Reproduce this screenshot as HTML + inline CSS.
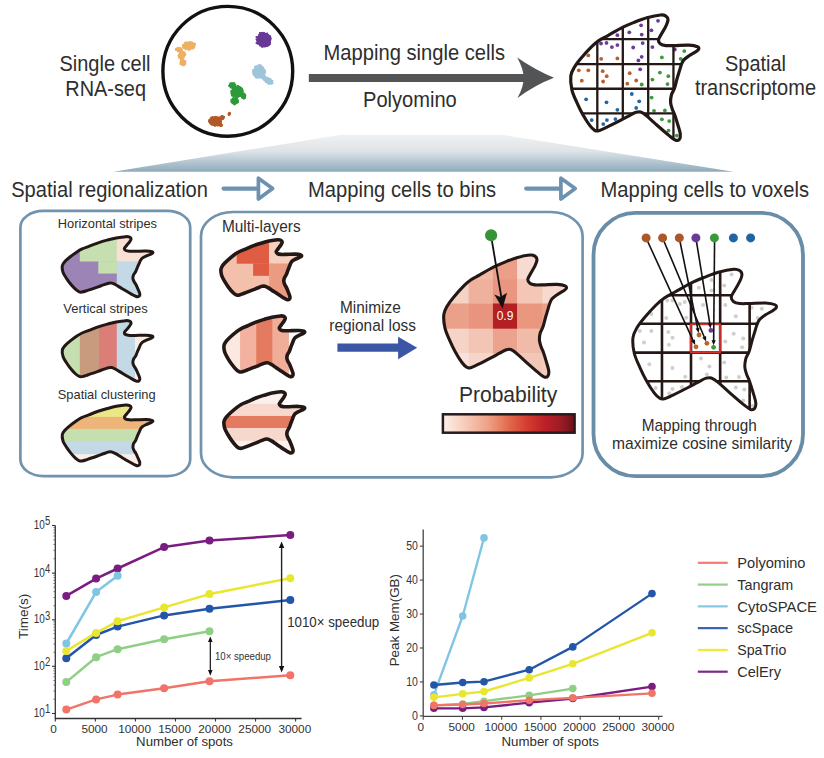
<!DOCTYPE html>
<html><head><meta charset="utf-8"><style>
html,body{margin:0;padding:0;background:#fff;}
body{width:824px;height:758px;overflow:hidden;}
svg{display:block;font-family:"Liberation Sans", sans-serif;}
</style></head><body>
<svg width="824" height="758" viewBox="0 0 824 758">
<defs><clipPath id="c1"><path d="M570.8,76C571.23,72.2 572.83,69.92 574.5,67C576.17,64.08 577.98,61.85 580.8,58.5C583.62,55.15 588.4,49.88 591.4,46.9C594.4,43.92 595.98,42.53 598.8,40.6C601.62,38.67 604.35,37.5 608.3,35.3C612.25,33.1 618.13,29.58 622.5,27.4C626.87,25.22 630.43,23.82 634.5,22.2C638.57,20.58 642.55,18.9 646.9,17.7C651.25,16.5 657.43,15.27 660.6,15C663.77,14.73 664.67,15.3 665.9,16.1C667.13,16.9 668,18.13 668,19.8C668,21.47 666.95,23.82 665.9,26.1C664.85,28.38 662.93,31.22 661.7,33.5C660.47,35.78 658.68,38.05 658.5,39.8C658.32,41.55 659.37,43.03 660.6,44C661.83,44.97 663.62,45.33 665.9,45.6C668.18,45.87 670.43,45.68 674.3,45.6C678.17,45.52 685.23,44.92 689.1,45.1C692.97,45.28 695.92,46 697.5,46.7C699.08,47.4 698.95,48.42 698.6,49.3C698.25,50.18 696.98,50.93 695.4,52C693.82,53.07 691.03,54.38 689.1,55.7C687.17,57.02 685.08,58.43 683.8,59.9C682.52,61.37 682.1,62.75 681.4,64.5C680.7,66.25 680.33,68 679.6,70.4C678.87,72.8 677.87,75.9 677,78.9C676.13,81.9 675.33,85.72 674.4,88.4C673.47,91.08 672.03,92.62 671.4,95C670.77,97.38 670.45,100.33 670.6,102.7C670.75,105.07 671.63,107.23 672.3,109.2C672.97,111.17 673.72,112.03 674.6,114.5C675.48,116.97 676.65,120.73 677.6,124C678.55,127.27 680.02,131.53 680.3,134.1C680.58,136.67 680.13,138.4 679.3,139.4C678.47,140.4 677.12,140.83 675.3,140.1C673.48,139.37 671.7,137.7 668.4,135C665.1,132.3 659.2,127.13 655.5,123.9C651.8,120.67 648.67,117.57 646.2,115.6C643.73,113.63 642.38,112.65 640.7,112.1C639.02,111.55 638.05,111.68 636.1,112.3C634.15,112.92 631.62,114.45 629,115.8C626.38,117.15 624.15,118.47 620.4,120.4C616.65,122.33 610.13,125.67 606.5,127.4C602.87,129.13 600.57,130.32 598.6,130.8C596.63,131.28 596.18,131.2 594.7,130.3C593.22,129.4 591.68,128.03 589.7,125.4C587.72,122.77 584.93,118.3 582.8,114.5C580.67,110.7 578.72,106.72 576.9,102.6C575.08,98.48 572.92,94.23 571.9,89.8C570.88,85.37 570.37,79.8 570.8,76Z"/></clipPath><linearGradient id="wg" x1="0" y1="0" x2="0" y2="1"><stop offset="0" stop-color="#f1f1f1"/><stop offset="0.45" stop-color="#dde3e8"/><stop offset="1" stop-color="#8eaabb"/></linearGradient><clipPath id="c2"><path d="M62.31,265.84C62.62,264.02 63.75,262.92 64.93,261.53C66.11,260.13 67.39,259.06 69.39,257.46C71.38,255.85 74.76,253.33 76.89,251.9C79.01,250.48 80.13,249.81 82.12,248.89C84.12,247.96 86.05,247.4 88.84,246.35C91.64,245.3 95.8,243.61 98.89,242.57C101.98,241.52 104.51,240.85 107.38,240.08C110.26,239.3 113.08,238.5 116.16,237.92C119.24,237.35 123.61,236.76 125.85,236.63C128.09,236.5 128.73,236.78 129.6,237.16C130.48,237.54 131.09,238.13 131.09,238.93C131.09,239.73 130.35,240.85 129.6,241.95C128.86,243.04 127.5,244.4 126.63,245.49C125.76,246.58 124.5,247.67 124.37,248.51C124.24,249.34 124.98,250.05 125.85,250.52C126.73,250.98 127.99,251.15 129.6,251.28C131.22,251.41 132.81,251.32 135.55,251.28C138.28,251.24 143.28,250.95 146.02,251.04C148.76,251.13 150.84,251.47 151.96,251.81C153.08,252.14 152.99,252.63 152.74,253.05C152.5,253.48 151.6,253.84 150.48,254.35C149.36,254.86 147.39,255.49 146.02,256.12C144.65,256.75 143.18,257.43 142.27,258.13C141.36,258.83 141.07,259.49 140.57,260.33C140.08,261.17 139.82,262.01 139.3,263.16C138.78,264.3 138.07,265.79 137.46,267.22C136.84,268.66 136.28,270.49 135.62,271.77C134.96,273.06 133.94,273.79 133.5,274.93C133.05,276.07 132.82,277.49 132.93,278.62C133.04,279.75 133.66,280.79 134.13,281.73C134.6,282.67 135.13,283.09 135.76,284.27C136.38,285.45 137.21,287.25 137.88,288.82C138.55,290.38 139.59,292.42 139.79,293.65C139.99,294.88 139.68,295.71 139.09,296.19C138.5,296.67 137.54,296.88 136.26,296.52C134.97,296.17 133.71,295.38 131.37,294.08C129.04,292.79 124.86,290.32 122.24,288.77C119.63,287.22 117.41,285.74 115.66,284.79C113.92,283.85 112.96,283.38 111.77,283.12C110.58,282.86 109.9,282.92 108.52,283.22C107.14,283.51 105.34,284.24 103.49,284.89C101.64,285.54 100.06,286.17 97.41,287.09C94.75,288.02 90.14,289.61 87.57,290.44C85,291.27 83.37,291.84 81.98,292.07C80.59,292.3 80.27,292.26 79.22,291.83C78.17,291.4 77.09,290.75 75.68,289.49C74.28,288.23 72.31,286.09 70.8,284.27C69.29,282.45 67.91,280.54 66.63,278.57C65.34,276.6 63.81,274.57 63.09,272.44C62.37,270.32 62,267.66 62.31,265.84Z"/></clipPath><clipPath id="c3"><path d="M62.31,350.13C62.62,348.29 63.75,347.19 64.93,345.78C66.11,344.37 67.39,343.29 69.39,341.67C71.38,340.05 74.76,337.5 76.89,336.06C79.01,334.61 80.13,333.95 82.12,333.01C84.12,332.08 86.05,331.51 88.84,330.45C91.64,329.38 95.8,327.68 98.89,326.63C101.98,325.57 104.51,324.9 107.38,324.11C110.26,323.33 113.08,322.52 116.16,321.94C119.24,321.36 123.61,320.76 125.85,320.63C128.09,320.5 128.73,320.78 129.6,321.16C130.48,321.55 131.09,322.15 131.09,322.95C131.09,323.76 130.35,324.9 129.6,326C128.86,327.1 127.5,328.47 126.63,329.58C125.76,330.68 124.5,331.78 124.37,332.62C124.24,333.47 124.98,334.19 125.85,334.65C126.73,335.12 127.99,335.3 129.6,335.43C131.22,335.56 132.81,335.47 135.55,335.43C138.28,335.39 143.28,335.1 146.02,335.19C148.76,335.28 150.84,335.62 151.96,335.96C153.08,336.3 152.99,336.79 152.74,337.22C152.5,337.64 151.6,338.01 150.48,338.52C149.36,339.04 147.39,339.68 146.02,340.31C144.65,340.95 143.18,341.63 142.27,342.34C141.36,343.05 141.07,343.72 140.57,344.57C140.08,345.41 139.82,346.26 139.3,347.42C138.78,348.58 138.07,350.08 137.46,351.53C136.84,352.98 136.28,354.83 135.62,356.12C134.96,357.42 133.94,358.16 133.5,359.32C133.05,360.47 132.82,361.89 132.93,363.04C133.04,364.18 133.66,365.23 134.13,366.18C134.6,367.13 135.13,367.55 135.76,368.74C136.38,369.94 137.21,371.76 137.88,373.34C138.55,374.92 139.59,376.98 139.79,378.22C139.99,379.46 139.68,380.3 139.09,380.78C138.5,381.27 137.54,381.48 136.26,381.12C134.97,380.77 133.71,379.96 131.37,378.66C129.04,377.35 124.86,374.85 122.24,373.29C119.63,371.73 117.41,370.23 115.66,369.28C113.92,368.33 112.96,367.85 111.77,367.58C110.58,367.32 109.9,367.38 108.52,367.68C107.14,367.98 105.34,368.72 103.49,369.37C101.64,370.03 100.06,370.66 97.41,371.6C94.75,372.53 90.14,374.14 87.57,374.98C85,375.82 83.37,376.39 81.98,376.63C80.59,376.86 80.27,376.82 79.22,376.38C78.17,375.95 77.09,375.29 75.68,374.01C74.28,372.74 72.31,370.58 70.8,368.74C69.29,366.91 67.91,364.98 66.63,362.99C65.34,361 63.81,358.94 63.09,356.8C62.37,354.66 62,351.97 62.31,350.13Z"/></clipPath><clipPath id="c4"><path d="M62.31,434.53C62.62,432.69 63.75,431.59 64.93,430.18C66.11,428.77 67.39,427.69 69.39,426.07C71.38,424.45 74.76,421.9 76.89,420.46C79.01,419.01 80.13,418.35 82.12,417.41C84.12,416.48 86.05,415.91 88.84,414.85C91.64,413.78 95.8,412.08 98.89,411.03C101.98,409.97 104.51,409.3 107.38,408.51C110.26,407.73 113.08,406.92 116.16,406.34C119.24,405.76 123.61,405.16 125.85,405.03C128.09,404.9 128.73,405.18 129.6,405.56C130.48,405.95 131.09,406.55 131.09,407.35C131.09,408.16 130.35,409.3 129.6,410.4C128.86,411.5 127.5,412.87 126.63,413.98C125.76,415.08 124.5,416.18 124.37,417.02C124.24,417.87 124.98,418.59 125.85,419.05C126.73,419.52 127.99,419.7 129.6,419.83C131.22,419.96 132.81,419.87 135.55,419.83C138.28,419.79 143.28,419.5 146.02,419.59C148.76,419.68 150.84,420.02 151.96,420.36C153.08,420.7 152.99,421.19 152.74,421.62C152.5,422.04 151.6,422.41 150.48,422.92C149.36,423.44 147.39,424.08 146.02,424.71C144.65,425.35 143.18,426.03 142.27,426.74C141.36,427.45 141.07,428.12 140.57,428.97C140.08,429.81 139.82,430.66 139.3,431.82C138.78,432.98 138.07,434.48 137.46,435.93C136.84,437.38 136.28,439.23 135.62,440.52C134.96,441.82 133.94,442.56 133.5,443.72C133.05,444.87 132.82,446.29 132.93,447.44C133.04,448.58 133.66,449.63 134.13,450.58C134.6,451.53 135.13,451.95 135.76,453.14C136.38,454.34 137.21,456.16 137.88,457.74C138.55,459.32 139.59,461.38 139.79,462.62C139.99,463.86 139.68,464.7 139.09,465.18C138.5,465.67 137.54,465.88 136.26,465.52C134.97,465.17 133.71,464.36 131.37,463.06C129.04,461.75 124.86,459.25 122.24,457.69C119.63,456.13 117.41,454.63 115.66,453.68C113.92,452.73 112.96,452.25 111.77,451.98C110.58,451.72 109.9,451.78 108.52,452.08C107.14,452.38 105.34,453.12 103.49,453.77C101.64,454.43 100.06,455.06 97.41,456C94.75,456.93 90.14,458.54 87.57,459.38C85,460.22 83.37,460.79 81.98,461.03C80.59,461.26 80.27,461.22 79.22,460.78C78.17,460.35 77.09,459.69 75.68,458.41C74.28,457.14 72.31,454.98 70.8,453.14C69.29,451.31 67.91,449.38 66.63,447.39C65.34,445.4 63.81,443.34 63.09,441.2C62.37,439.06 62,436.37 62.31,434.53Z"/></clipPath><clipPath id="c5"><path d="M221,268.94C221.27,267.12 222.28,266.02 223.33,264.63C224.38,263.23 225.52,262.16 227.29,260.56C229.07,258.95 232.08,256.43 233.97,255C235.86,253.58 236.85,252.91 238.63,251.99C240.4,251.06 242.12,250.5 244.61,249.45C247.09,248.4 250.8,246.71 253.55,245.67C256.3,244.62 258.54,243.95 261.1,243.18C263.66,242.4 266.17,241.6 268.91,241.02C271.65,240.45 275.54,239.86 277.54,239.73C279.53,239.6 280.1,239.88 280.87,240.26C281.65,240.64 282.19,241.23 282.19,242.03C282.19,242.83 281.53,243.95 280.87,245.05C280.21,246.14 279,247.5 278.23,248.59C277.45,249.68 276.33,250.77 276.21,251.61C276.1,252.44 276.76,253.15 277.54,253.62C278.31,254.08 279.43,254.25 280.87,254.38C282.31,254.51 283.73,254.42 286.16,254.38C288.6,254.34 293.04,254.05 295.48,254.14C297.91,254.23 299.77,254.57 300.77,254.91C301.76,255.24 301.68,255.73 301.46,256.15C301.24,256.58 300.44,256.94 299.45,257.45C298.45,257.96 296.7,258.59 295.48,259.22C294.26,259.85 292.95,260.53 292.14,261.23C291.33,261.93 291.07,262.59 290.63,263.43C290.19,264.27 289.96,265.11 289.5,266.26C289.04,267.4 288.41,268.89 287.86,270.32C287.32,271.76 286.81,273.59 286.22,274.87C285.64,276.16 284.73,276.89 284.33,278.03C283.94,279.17 283.74,280.59 283.83,281.72C283.93,282.85 284.48,283.89 284.9,284.83C285.32,285.77 285.79,286.19 286.35,287.37C286.91,288.55 287.64,290.35 288.24,291.92C288.84,293.48 289.76,295.52 289.94,296.75C290.12,297.98 289.83,298.81 289.31,299.29C288.78,299.77 287.93,299.98 286.79,299.62C285.65,299.27 284.52,298.48 282.45,297.18C280.37,295.89 276.65,293.42 274.32,291.87C271.99,290.32 270.02,288.84 268.47,287.89C266.92,286.95 266.07,286.48 265.01,286.22C263.95,285.96 263.34,286.02 262.11,286.32C260.88,286.61 259.29,287.34 257.64,287.99C255.99,288.64 254.59,289.27 252.23,290.19C249.86,291.12 245.76,292.71 243.47,293.54C241.19,294.37 239.74,294.94 238.5,295.17C237.26,295.4 236.98,295.36 236.04,294.93C235.11,294.5 234.15,293.85 232.9,292.59C231.65,291.33 229.9,289.19 228.55,287.37C227.21,285.55 225.98,283.64 224.84,281.67C223.69,279.7 222.33,277.67 221.69,275.54C221.05,273.42 220.72,270.76 221,268.94Z"/></clipPath><clipPath id="c6"><path d="M224,345.43C224.27,343.59 225.28,342.49 226.33,341.08C227.38,339.67 228.53,338.59 230.3,336.97C232.08,335.35 235.09,332.8 236.98,331.36C238.87,329.91 239.87,329.25 241.65,328.31C243.42,327.38 245.15,326.81 247.64,325.75C250.13,324.68 253.84,322.98 256.59,321.93C259.34,320.87 261.59,320.2 264.15,319.41C266.72,318.63 269.23,317.82 271.97,317.24C274.71,316.66 278.61,316.06 280.61,315.93C282.6,315.8 283.17,316.08 283.95,316.46C284.72,316.85 285.27,317.45 285.27,318.25C285.27,319.06 284.61,320.2 283.95,321.3C283.28,322.4 282.08,323.77 281.3,324.88C280.52,325.98 279.4,327.08 279.28,327.92C279.17,328.77 279.83,329.49 280.61,329.95C281.38,330.42 282.51,330.6 283.95,330.73C285.39,330.86 286.8,330.77 289.24,330.73C291.68,330.69 296.13,330.4 298.57,330.49C301.01,330.58 302.87,330.92 303.87,331.26C304.86,331.6 304.78,332.09 304.56,332.52C304.34,332.94 303.54,333.31 302.54,333.82C301.54,334.34 299.79,334.98 298.57,335.61C297.35,336.25 296.04,336.93 295.23,337.64C294.42,338.35 294.16,339.02 293.72,339.87C293.28,340.71 293.04,341.56 292.58,342.72C292.12,343.88 291.49,345.38 290.94,346.83C290.4,348.28 289.89,350.13 289.3,351.42C288.72,352.72 287.81,353.46 287.41,354.62C287.01,355.77 286.81,357.19 286.91,358.34C287,359.48 287.56,360.53 287.98,361.48C288.4,362.43 288.87,362.85 289.43,364.04C289.99,365.24 290.72,367.06 291.32,368.64C291.92,370.22 292.85,372.28 293.02,373.52C293.2,374.76 292.92,375.6 292.39,376.08C291.87,376.57 291.02,376.78 289.87,376.42C288.73,376.07 287.6,375.26 285.52,373.96C283.44,372.65 279.72,370.15 277.39,368.59C275.06,367.03 273.08,365.53 271.53,364.58C269.97,363.63 269.12,363.15 268.06,362.88C267,362.62 266.39,362.68 265.16,362.98C263.93,363.28 262.33,364.02 260.69,364.67C259.04,365.33 257.63,365.96 255.26,366.9C252.9,367.83 248.79,369.44 246.5,370.28C244.21,371.12 242.76,371.69 241.52,371.93C240.28,372.16 240,372.12 239.06,371.68C238.13,371.25 237.16,370.59 235.91,369.31C234.66,368.04 232.91,365.88 231.56,364.04C230.22,362.21 228.99,360.28 227.84,358.29C226.7,356.3 225.33,354.24 224.69,352.1C224.05,349.96 223.72,347.27 224,345.43Z"/></clipPath><clipPath id="c7"><path d="M224,421.52C224.27,419.66 225.28,418.55 226.33,417.13C227.38,415.7 228.53,414.61 230.3,412.97C232.08,411.34 235.09,408.77 236.98,407.31C238.87,405.85 239.87,405.18 241.65,404.23C243.42,403.29 245.15,402.72 247.64,401.65C250.13,400.57 253.84,398.85 256.59,397.79C259.34,396.72 261.59,396.04 264.15,395.25C266.72,394.46 269.23,393.64 271.97,393.05C274.71,392.47 278.61,391.86 280.61,391.73C282.6,391.6 283.17,391.88 283.95,392.27C284.72,392.66 285.27,393.26 285.27,394.08C285.27,394.89 284.61,396.04 283.95,397.15C283.28,398.27 282.08,399.65 281.3,400.77C280.52,401.88 279.4,402.99 279.28,403.84C279.17,404.7 279.83,405.42 280.61,405.89C281.38,406.37 282.51,406.54 283.95,406.68C285.39,406.81 286.8,406.72 289.24,406.68C291.68,406.63 296.13,406.34 298.57,406.43C301.01,406.52 302.87,406.87 303.87,407.21C304.86,407.55 304.78,408.05 304.56,408.48C304.34,408.91 303.54,409.28 302.54,409.8C301.54,410.32 299.79,410.96 298.57,411.61C297.35,412.25 296.04,412.94 295.23,413.66C294.42,414.37 294.16,415.05 293.72,415.9C293.28,416.76 293.04,417.61 292.58,418.79C292.12,419.96 291.49,421.47 290.94,422.94C290.4,424.4 289.89,426.26 289.3,427.57C288.72,428.89 287.81,429.63 287.41,430.8C287.01,431.96 286.81,433.4 286.91,434.56C287,435.71 287.56,436.77 287.98,437.73C288.4,438.69 288.87,439.12 289.43,440.32C289.99,441.52 290.72,443.36 291.32,444.96C291.92,446.55 292.85,448.64 293.02,449.89C293.2,451.14 292.92,451.99 292.39,452.48C291.87,452.97 291.02,453.18 289.87,452.82C288.73,452.46 287.6,451.65 285.52,450.33C283.44,449.01 279.72,446.49 277.39,444.91C275.06,443.33 273.08,441.82 271.53,440.86C269.97,439.9 269.12,439.42 268.06,439.15C267,438.88 266.39,438.94 265.16,439.25C263.93,439.55 262.33,440.3 260.69,440.95C259.04,441.61 257.63,442.26 255.26,443.2C252.9,444.15 248.79,445.77 246.5,446.62C244.21,447.47 242.76,448.04 241.52,448.28C240.28,448.52 240,448.47 239.06,448.04C238.13,447.6 237.16,446.93 235.91,445.64C234.66,444.36 232.91,442.18 231.56,440.32C230.22,438.46 228.99,436.52 227.84,434.51C226.7,432.5 225.33,430.42 224.69,428.26C224.05,426.09 223.72,423.38 224,421.52Z"/></clipPath><clipPath id="c8"><path d="M443.85,314.45C444.26,310.75 445.8,308.52 447.39,305.68C448.99,302.84 450.73,300.67 453.43,297.41C456.13,294.15 460.71,289.02 463.58,286.12C466.46,283.21 467.97,281.87 470.67,279.99C473.37,278.1 475.99,276.97 479.77,274.83C483.56,272.68 489.2,269.26 493.38,267.14C497.56,265.01 500.98,263.65 504.88,262.07C508.77,260.5 512.59,258.86 516.76,257.69C520.92,256.53 526.85,255.32 529.88,255.06C532.91,254.81 533.78,255.36 534.96,256.14C536.14,256.91 536.97,258.12 536.97,259.74C536.97,261.36 535.96,263.65 534.96,265.87C533.95,268.09 532.12,270.85 530.93,273.07C529.75,275.3 528.04,277.5 527.87,279.21C527.69,280.91 528.7,282.35 529.88,283.29C531.06,284.24 532.77,284.59 534.96,284.85C537.15,285.11 539.3,284.93 543.01,284.85C546.71,284.77 553.48,284.19 557.19,284.37C560.89,284.54 563.72,285.24 565.23,285.92C566.75,286.6 566.62,287.59 566.29,288.45C565.95,289.31 564.74,290.04 563.22,291.08C561.7,292.12 559.04,293.4 557.19,294.68C555.33,295.97 553.34,297.34 552.11,298.77C550.88,300.2 550.48,301.55 549.81,303.25C549.14,304.95 548.79,306.66 548.08,308.99C547.38,311.33 546.42,314.35 545.59,317.27C544.76,320.19 544,323.9 543.1,326.52C542.21,329.13 540.83,330.62 540.23,332.94C539.62,335.26 539.32,338.13 539.46,340.44C539.61,342.74 540.45,344.85 541.09,346.76C541.73,348.68 542.45,349.52 543.29,351.92C544.14,354.32 545.26,357.99 546.17,361.17C547.08,364.35 548.48,368.5 548.75,371C549.03,373.5 548.59,375.19 547.8,376.16C547,377.14 545.7,377.56 543.96,376.84C542.22,376.13 540.52,374.51 537.35,371.88C534.19,369.25 528.54,364.22 524.99,361.07C521.45,357.93 518.45,354.91 516.08,352.99C513.72,351.08 512.43,350.12 510.82,349.59C509.2,349.05 508.28,349.18 506.41,349.78C504.54,350.38 502.11,351.87 499.61,353.19C497.1,354.5 494.96,355.78 491.37,357.67C487.77,359.55 481.53,362.79 478.05,364.48C474.57,366.17 472.37,367.32 470.48,367.79C468.6,368.26 468.17,368.18 466.75,367.3C465.32,366.43 463.85,365.1 461.95,362.53C460.05,359.97 457.39,355.62 455.34,351.92C453.3,348.22 451.43,344.35 449.69,340.34C447.95,336.33 445.88,332.19 444.9,327.88C443.93,323.56 443.43,318.14 443.85,314.45Z"/></clipPath><linearGradient id="pg" x1="0" y1="0" x2="1" y2="0"><stop offset="0" stop-color="#fdf0e9"/><stop offset="0.15" stop-color="#f8d0bf"/><stop offset="0.35" stop-color="#ee9f84"/><stop offset="0.5" stop-color="#e3694d"/><stop offset="0.65" stop-color="#d33a2d"/><stop offset="0.78" stop-color="#bb1f27"/><stop offset="0.9" stop-color="#9a1c25"/><stop offset="1" stop-color="#6a1118"/></linearGradient><clipPath id="c9"><path d="M632.97,337.55C633.46,333.29 635.25,330.74 637.12,327.47C638.99,324.21 641.03,321.71 644.18,317.96C647.34,314.21 652.7,308.32 656.07,304.98C659.43,301.64 661.21,300.09 664.36,297.93C667.52,295.76 670.59,294.46 675.01,291.99C679.44,289.53 686.04,285.6 690.93,283.15C695.83,280.71 699.83,279.14 704.39,277.33C708.95,275.52 713.41,273.64 718.29,272.3C723.17,270.95 730.1,269.57 733.65,269.27C737.2,268.98 738.21,269.61 739.59,270.51C740.97,271.4 741.94,272.78 741.94,274.65C741.94,276.51 740.77,279.14 739.59,281.7C738.41,284.25 736.26,287.42 734.88,289.98C733.5,292.54 731.5,295.07 731.29,297.03C731.09,298.99 732.27,300.65 733.65,301.73C735.03,302.81 737.03,303.22 739.59,303.52C742.15,303.82 744.67,303.62 749.01,303.52C753.34,303.43 761.27,302.76 765.6,302.96C769.94,303.17 773.24,303.97 775.02,304.75C776.79,305.54 776.64,306.68 776.25,307.66C775.86,308.65 774.44,309.49 772.66,310.69C770.89,311.88 767.77,313.35 765.6,314.83C763.43,316.3 761.1,317.89 759.66,319.53C758.22,321.17 757.75,322.72 756.97,324.68C756.18,326.63 755.77,328.59 754.95,331.28C754.13,333.97 753.01,337.44 752.03,340.79C751.06,344.15 750.17,348.42 749.12,351.43C748.07,354.43 746.47,356.15 745.76,358.81C745.05,361.48 744.69,364.78 744.86,367.43C745.03,370.08 746.02,372.5 746.77,374.71C747.51,376.91 748.35,377.88 749.34,380.64C750.33,383.4 751.64,387.61 752.71,391.27C753.77,394.93 755.42,399.7 755.73,402.57C756.05,405.45 755.55,407.39 754.61,408.51C753.68,409.63 752.17,410.11 750.13,409.29C748.09,408.47 746.09,406.6 742.39,403.58C738.69,400.56 732.08,394.78 727.93,391.16C723.78,387.54 720.27,384.07 717.5,381.87C714.74,379.67 713.23,378.57 711.34,377.95C709.45,377.34 708.37,377.48 706.18,378.18C704,378.87 701.15,380.58 698.22,382.09C695.29,383.6 692.78,385.08 688.58,387.24C684.38,389.4 677.07,393.14 673,395.08C668.92,397.02 666.34,398.34 664.14,398.88C661.93,399.42 661.43,399.33 659.77,398.32C658.1,397.31 656.39,395.78 654.16,392.84C651.94,389.89 648.82,384.89 646.43,380.64C644.03,376.38 641.85,371.93 639.81,367.32C637.77,362.71 635.35,357.95 634.21,352.99C633.07,348.03 632.49,341.8 632.97,337.55Z"/></clipPath></defs>
<text x="59.5" y="71.3" font-size="21.2" fill="#2e2e2e" textLength="91.03" lengthAdjust="spacingAndGlyphs" >Single cell</text>
<text x="65.3" y="96" font-size="21.2" fill="#2e2e2e" textLength="80.7" lengthAdjust="spacingAndGlyphs" >RNA-seq</text>
<circle cx="227.8" cy="71.3" r="64.9" fill="none" stroke="#111" stroke-width="3.4"/>
<g fill="#efb064"><circle cx="188.12" cy="47.21" r="1.15"/><circle cx="192.6" cy="46.55" r="1.15"/><circle cx="192.2" cy="46.26" r="1.15"/><circle cx="187.87" cy="46.25" r="1.15"/><circle cx="185.2" cy="47.5" r="1.15"/><circle cx="190.17" cy="48.93" r="1.15"/><circle cx="185.29" cy="44.94" r="1.15"/><circle cx="193.67" cy="46.23" r="1.15"/><circle cx="190.19" cy="46.6" r="1.15"/><circle cx="189.84" cy="44.27" r="1.15"/><circle cx="186.62" cy="44.32" r="1.15"/><circle cx="190.16" cy="45.99" r="1.15"/><circle cx="187.36" cy="43.95" r="1.15"/><circle cx="185.89" cy="44.95" r="1.15"/><circle cx="189.9" cy="43.05" r="1.15"/><circle cx="184.83" cy="44.89" r="1.15"/><circle cx="188.33" cy="43.63" r="1.15"/><circle cx="192.04" cy="47.21" r="1.15"/><circle cx="191.07" cy="47.34" r="1.15"/><circle cx="186.28" cy="43.25" r="1.15"/><circle cx="191.2" cy="44.06" r="1.15"/><circle cx="185.39" cy="44.64" r="1.15"/><circle cx="191.57" cy="42.6" r="1.15"/><circle cx="188.17" cy="45.07" r="1.15"/><circle cx="184.99" cy="43.01" r="1.15"/><circle cx="188.44" cy="48.17" r="1.15"/><circle cx="192.35" cy="45.77" r="1.15"/><circle cx="190.15" cy="46.33" r="1.15"/><circle cx="190.96" cy="46.86" r="1.15"/><circle cx="190" cy="44.97" r="1.15"/><circle cx="183.39" cy="45.21" r="1.15"/><circle cx="190.73" cy="44.23" r="1.15"/><circle cx="185.5" cy="49.19" r="1.15"/><circle cx="190.35" cy="46.79" r="1.15"/><circle cx="189.67" cy="48.31" r="1.15"/><circle cx="188.99" cy="46.03" r="1.15"/><circle cx="185.95" cy="48.4" r="1.15"/><circle cx="187.24" cy="43.46" r="1.15"/><circle cx="188.26" cy="45.02" r="1.15"/><circle cx="189.71" cy="42.08" r="1.15"/><circle cx="186.75" cy="47.27" r="1.15"/><circle cx="188.15" cy="45.31" r="1.15"/><circle cx="189.68" cy="47.07" r="1.15"/><circle cx="189.07" cy="45.81" r="1.15"/><circle cx="191.37" cy="46.66" r="1.15"/><circle cx="191.53" cy="43.77" r="1.15"/><circle cx="189.16" cy="47.82" r="1.15"/><circle cx="193.54" cy="48.05" r="1.15"/><circle cx="185.79" cy="46.58" r="1.15"/><circle cx="191.51" cy="46.72" r="1.15"/><circle cx="189.79" cy="44.65" r="1.15"/><circle cx="192.32" cy="44.76" r="1.15"/><circle cx="188.1" cy="45.73" r="1.15"/><circle cx="194.4" cy="44.78" r="1.15"/><circle cx="188.98" cy="47.74" r="1.15"/><circle cx="189.32" cy="42.91" r="1.15"/><circle cx="187.78" cy="47.58" r="1.15"/><circle cx="194.59" cy="44.89" r="1.15"/><circle cx="190.55" cy="43.07" r="1.15"/><circle cx="186.21" cy="45.88" r="1.15"/><circle cx="191.69" cy="45.84" r="1.15"/><circle cx="186.79" cy="42.77" r="1.15"/><circle cx="194.71" cy="43.63" r="1.15"/><circle cx="187.55" cy="47.11" r="1.15"/><circle cx="190.02" cy="47.31" r="1.15"/><circle cx="192.9" cy="43.48" r="1.15"/><circle cx="186.32" cy="43.78" r="1.15"/><circle cx="185.6" cy="42.95" r="1.15"/><circle cx="188.78" cy="43.59" r="1.15"/><circle cx="189.64" cy="43.51" r="1.15"/><circle cx="192.29" cy="45.08" r="1.15"/><circle cx="192.88" cy="44.51" r="1.15"/><circle cx="190.82" cy="46.76" r="1.15"/><circle cx="189.68" cy="44.29" r="1.15"/><circle cx="193.21" cy="45.03" r="1.15"/><circle cx="187.36" cy="45.63" r="1.15"/><circle cx="193.39" cy="44.82" r="1.15"/><circle cx="192.65" cy="44.35" r="1.15"/><circle cx="189.94" cy="44.35" r="1.15"/><circle cx="188.43" cy="47.62" r="1.15"/><circle cx="189.02" cy="47.85" r="1.15"/><circle cx="191.64" cy="44.4" r="1.15"/><circle cx="184.38" cy="44.59" r="1.15"/><circle cx="192.33" cy="44.19" r="1.15"/><circle cx="188.26" cy="45.8" r="1.15"/><circle cx="189.18" cy="46.01" r="1.15"/><circle cx="191.16" cy="47.95" r="1.15"/><circle cx="185.94" cy="45.39" r="1.15"/><circle cx="184.89" cy="45.26" r="1.15"/><circle cx="186.56" cy="45.43" r="1.15"/><circle cx="189.3" cy="43.16" r="1.15"/><circle cx="188.99" cy="42.42" r="1.15"/><circle cx="185.82" cy="44.44" r="1.15"/><circle cx="187.44" cy="43.65" r="1.15"/><circle cx="183.36" cy="46.88" r="1.15"/><circle cx="192.31" cy="43.21" r="1.15"/><circle cx="183.27" cy="44.95" r="1.15"/><circle cx="190.33" cy="46.61" r="1.15"/><circle cx="191.16" cy="46.25" r="1.15"/><circle cx="185.99" cy="42.93" r="1.15"/><circle cx="192.06" cy="48.15" r="1.15"/><circle cx="193.06" cy="48.47" r="1.15"/><circle cx="190.33" cy="49.02" r="1.15"/><circle cx="182.92" cy="46.73" r="1.15"/><circle cx="191.14" cy="47.61" r="1.15"/><circle cx="187.9" cy="47.18" r="1.15"/><circle cx="188.81" cy="45.31" r="1.15"/><circle cx="188.36" cy="46.03" r="1.15"/><circle cx="186.43" cy="44.5" r="1.15"/><circle cx="194.65" cy="44.89" r="1.15"/><circle cx="191.01" cy="46.56" r="1.15"/><circle cx="189.3" cy="44.15" r="1.15"/><circle cx="184" cy="48.1" r="1.15"/><circle cx="189.03" cy="47.39" r="1.15"/><circle cx="185.27" cy="45.05" r="1.15"/><circle cx="193.3" cy="46.4" r="1.15"/><circle cx="194.21" cy="46.89" r="1.15"/><circle cx="189.46" cy="44.64" r="1.15"/><circle cx="193.77" cy="46.67" r="1.15"/><circle cx="186.75" cy="48.63" r="1.15"/><circle cx="188.9" cy="47.11" r="1.15"/><circle cx="189.22" cy="46.84" r="1.15"/><circle cx="191.27" cy="46.05" r="1.15"/><circle cx="187.75" cy="48.68" r="1.15"/><circle cx="186.78" cy="46.02" r="1.15"/><circle cx="191.33" cy="45.74" r="1.15"/><circle cx="188.37" cy="43.47" r="1.15"/><circle cx="184.44" cy="46.74" r="1.15"/><circle cx="190.31" cy="43.51" r="1.15"/><circle cx="190.57" cy="43.68" r="1.15"/><circle cx="186.7" cy="42.89" r="1.15"/><circle cx="191.14" cy="42.82" r="1.15"/><circle cx="186.8" cy="47.04" r="1.15"/><circle cx="190.17" cy="46.44" r="1.15"/><circle cx="189.06" cy="47.05" r="1.15"/><circle cx="191.67" cy="42.53" r="1.15"/><circle cx="188.65" cy="47.46" r="1.15"/><circle cx="186.94" cy="46.36" r="1.15"/><circle cx="188.88" cy="49.9" r="1.15"/><circle cx="185.91" cy="45.51" r="1.15"/><circle cx="188.16" cy="47.56" r="1.15"/><circle cx="186.35" cy="47.76" r="1.15"/><circle cx="179.29" cy="51.05" r="1.15"/><circle cx="178.81" cy="50.37" r="1.15"/><circle cx="179.38" cy="49.95" r="1.15"/><circle cx="178.93" cy="51.41" r="1.15"/><circle cx="179.37" cy="48.04" r="1.15"/><circle cx="180.41" cy="49.23" r="1.15"/><circle cx="180.22" cy="49.96" r="1.15"/><circle cx="178.65" cy="49.34" r="1.15"/><circle cx="181.15" cy="49.1" r="1.15"/><circle cx="179.56" cy="49.18" r="1.15"/><circle cx="176.08" cy="49.15" r="1.15"/><circle cx="180.48" cy="48.48" r="1.15"/><circle cx="178.38" cy="48.21" r="1.15"/><circle cx="179.97" cy="50.14" r="1.15"/><circle cx="180.91" cy="51.39" r="1.15"/><circle cx="177.55" cy="48.23" r="1.15"/><circle cx="178.81" cy="49.77" r="1.15"/><circle cx="179.27" cy="48.34" r="1.15"/><circle cx="178.66" cy="49.24" r="1.15"/><circle cx="178.89" cy="50.31" r="1.15"/><circle cx="179.02" cy="48.78" r="1.15"/><circle cx="180.99" cy="49.99" r="1.15"/><circle cx="176.35" cy="49.51" r="1.15"/><circle cx="177.7" cy="48.56" r="1.15"/><circle cx="179.77" cy="50.88" r="1.15"/><circle cx="178.14" cy="50.88" r="1.15"/><circle cx="180.4" cy="50.51" r="1.15"/><circle cx="178.5" cy="48.19" r="1.15"/><circle cx="177.08" cy="49.26" r="1.15"/><circle cx="180.58" cy="51.34" r="1.15"/><circle cx="181.39" cy="50.05" r="1.15"/><circle cx="175.94" cy="49.74" r="1.15"/><circle cx="177.65" cy="49.83" r="1.15"/><circle cx="180.36" cy="49.74" r="1.15"/><circle cx="180.26" cy="51.42" r="1.15"/><circle cx="180.5" cy="51.52" r="1.15"/><circle cx="180.89" cy="49.13" r="1.15"/><circle cx="180.51" cy="49.36" r="1.15"/><circle cx="181" cy="50.24" r="1.15"/><circle cx="178.53" cy="50.42" r="1.15"/><circle cx="177.81" cy="51.04" r="1.15"/><circle cx="179.34" cy="48.18" r="1.15"/><circle cx="181.67" cy="49.44" r="1.15"/><circle cx="178.34" cy="50.87" r="1.15"/><circle cx="181.13" cy="50.22" r="1.15"/><circle cx="177.75" cy="49.96" r="1.15"/><circle cx="180.77" cy="51.23" r="1.15"/><circle cx="183.36" cy="54.95" r="1.15"/><circle cx="180.74" cy="55.26" r="1.15"/><circle cx="185.15" cy="54.74" r="1.15"/><circle cx="180.03" cy="52.25" r="1.15"/><circle cx="179.99" cy="54.46" r="1.15"/><circle cx="182.03" cy="52.75" r="1.15"/><circle cx="181.28" cy="54.07" r="1.15"/><circle cx="183.02" cy="55.01" r="1.15"/><circle cx="180.82" cy="57.24" r="1.15"/><circle cx="183.65" cy="55.36" r="1.15"/><circle cx="181.05" cy="58" r="1.15"/><circle cx="182.43" cy="56.74" r="1.15"/><circle cx="183.75" cy="54.32" r="1.15"/><circle cx="184.69" cy="53.7" r="1.15"/><circle cx="182.63" cy="56.67" r="1.15"/><circle cx="181.45" cy="56.32" r="1.15"/><circle cx="181.54" cy="58.69" r="1.15"/><circle cx="182.23" cy="53.15" r="1.15"/><circle cx="180.29" cy="54.99" r="1.15"/><circle cx="183.63" cy="56.54" r="1.15"/><circle cx="183.39" cy="57.64" r="1.15"/><circle cx="182.97" cy="54.36" r="1.15"/><circle cx="181.78" cy="57.84" r="1.15"/><circle cx="185.13" cy="54.69" r="1.15"/><circle cx="182.57" cy="55.66" r="1.15"/><circle cx="183.87" cy="54.05" r="1.15"/><circle cx="184.18" cy="55.72" r="1.15"/><circle cx="183.85" cy="52.07" r="1.15"/><circle cx="181.9" cy="56.6" r="1.15"/><circle cx="179.19" cy="54.71" r="1.15"/><circle cx="181.85" cy="52.21" r="1.15"/><circle cx="180.09" cy="55.94" r="1.15"/><circle cx="182.54" cy="53.51" r="1.15"/><circle cx="181.25" cy="53.97" r="1.15"/><circle cx="181.65" cy="58.7" r="1.15"/><circle cx="182.55" cy="56.21" r="1.15"/><circle cx="180.61" cy="54.29" r="1.15"/><circle cx="181.79" cy="55.26" r="1.15"/><circle cx="178.87" cy="56.14" r="1.15"/><circle cx="183.58" cy="54.07" r="1.15"/><circle cx="181.66" cy="59.44" r="1.15"/><circle cx="181.79" cy="56" r="1.15"/><circle cx="181.37" cy="53.42" r="1.15"/><circle cx="180.97" cy="52.51" r="1.15"/><circle cx="183.64" cy="56.12" r="1.15"/><circle cx="181.56" cy="53.76" r="1.15"/><circle cx="182.11" cy="53.08" r="1.15"/><circle cx="183.89" cy="55.25" r="1.15"/><circle cx="182" cy="57.43" r="1.15"/><circle cx="180.82" cy="58.94" r="1.15"/><circle cx="182.38" cy="57.15" r="1.15"/><circle cx="180.95" cy="52.58" r="1.15"/><circle cx="180.6" cy="56.62" r="1.15"/><circle cx="182.31" cy="56.11" r="1.15"/><circle cx="179.2" cy="57.74" r="1.15"/><circle cx="182.05" cy="51.19" r="1.15"/><circle cx="181.12" cy="57.06" r="1.15"/><circle cx="182.06" cy="54.79" r="1.15"/><circle cx="180.58" cy="56.87" r="1.15"/><circle cx="182.06" cy="55.67" r="1.15"/><circle cx="180.19" cy="57.93" r="1.15"/><circle cx="183.32" cy="55.27" r="1.15"/><circle cx="183.47" cy="52.62" r="1.15"/><circle cx="183.84" cy="56.45" r="1.15"/><circle cx="183.19" cy="54.85" r="1.15"/><circle cx="182.45" cy="55.16" r="1.15"/><circle cx="183.11" cy="53" r="1.15"/><circle cx="182.82" cy="55.82" r="1.15"/><circle cx="181.5" cy="59.17" r="1.15"/><circle cx="180.84" cy="57.32" r="1.15"/><circle cx="180.9" cy="53.99" r="1.15"/><circle cx="181.31" cy="56.95" r="1.15"/><circle cx="182.49" cy="51.75" r="1.15"/><circle cx="182.42" cy="55.35" r="1.15"/><circle cx="178.55" cy="55.82" r="1.15"/><circle cx="180.75" cy="56.59" r="1.15"/><circle cx="179.37" cy="55.37" r="1.15"/><circle cx="183.28" cy="52.21" r="1.15"/><circle cx="182.59" cy="52.8" r="1.15"/><circle cx="180.93" cy="57.66" r="1.15"/><circle cx="183.2" cy="56.49" r="1.15"/><circle cx="181.93" cy="56.31" r="1.15"/><circle cx="180.17" cy="54.5" r="1.15"/><circle cx="184.31" cy="53.41" r="1.15"/><circle cx="183.68" cy="62.95" r="1.15"/><circle cx="182.62" cy="60.8" r="1.15"/><circle cx="181.18" cy="63.7" r="1.15"/><circle cx="182.97" cy="59.7" r="1.15"/><circle cx="184.56" cy="64.2" r="1.15"/><circle cx="181.48" cy="61.73" r="1.15"/><circle cx="183.36" cy="63.74" r="1.15"/><circle cx="184.39" cy="64.78" r="1.15"/><circle cx="182.15" cy="64.37" r="1.15"/><circle cx="181.66" cy="62.43" r="1.15"/><circle cx="181.76" cy="60.46" r="1.15"/><circle cx="180.49" cy="62.96" r="1.15"/><circle cx="183.4" cy="62.22" r="1.15"/><circle cx="183.93" cy="63.49" r="1.15"/><circle cx="180.98" cy="61.17" r="1.15"/><circle cx="184.04" cy="61.18" r="1.15"/><circle cx="183.37" cy="60.1" r="1.15"/><circle cx="181.52" cy="61.33" r="1.15"/><circle cx="182.42" cy="63.22" r="1.15"/><circle cx="182.94" cy="64.84" r="1.15"/><circle cx="183.07" cy="62.78" r="1.15"/><circle cx="182.56" cy="61.45" r="1.15"/><circle cx="183.66" cy="65" r="1.15"/><circle cx="183.71" cy="62.84" r="1.15"/><circle cx="181.35" cy="61.88" r="1.15"/><circle cx="184.05" cy="64.5" r="1.15"/><circle cx="182.67" cy="64.3" r="1.15"/><circle cx="182.31" cy="64.41" r="1.15"/><circle cx="180.64" cy="64.06" r="1.15"/><circle cx="182.21" cy="63.54" r="1.15"/><circle cx="183.06" cy="62.74" r="1.15"/><circle cx="181.04" cy="63.66" r="1.15"/><circle cx="184.13" cy="61.33" r="1.15"/><circle cx="184.95" cy="62.71" r="1.15"/><circle cx="183.66" cy="62.02" r="1.15"/><circle cx="181.91" cy="63.81" r="1.15"/><circle cx="182.57" cy="64.82" r="1.15"/><circle cx="184.51" cy="63.9" r="1.15"/><circle cx="183.96" cy="62.27" r="1.15"/><circle cx="185.32" cy="61.51" r="1.15"/><circle cx="185.2" cy="63.38" r="1.15"/><circle cx="184.81" cy="61.08" r="1.15"/><circle cx="184.08" cy="64.46" r="1.15"/><circle cx="180.88" cy="64.16" r="1.15"/><circle cx="183.47" cy="63.69" r="1.15"/><circle cx="181.64" cy="62.33" r="1.15"/><circle cx="183.04" cy="65.28" r="1.15"/><circle cx="184.98" cy="63.1" r="1.15"/><circle cx="184.96" cy="63.05" r="1.15"/><circle cx="181.42" cy="61.2" r="1.15"/><circle cx="182.42" cy="64.3" r="1.15"/><circle cx="181.21" cy="63.53" r="1.15"/><circle cx="182.63" cy="62.67" r="1.15"/><circle cx="181.67" cy="62.6" r="1.15"/><circle cx="183.29" cy="60.79" r="1.15"/></g>
<g fill="#683a96"><circle cx="261.79" cy="39.24" r="1.15"/><circle cx="261.68" cy="39.75" r="1.15"/><circle cx="262.41" cy="39.06" r="1.15"/><circle cx="267.63" cy="44.7" r="1.15"/><circle cx="262.28" cy="38.98" r="1.15"/><circle cx="258.27" cy="41.71" r="1.15"/><circle cx="270.1" cy="36.33" r="1.15"/><circle cx="266.19" cy="37.36" r="1.15"/><circle cx="256.55" cy="37.09" r="1.15"/><circle cx="264.68" cy="46.44" r="1.15"/><circle cx="266.75" cy="42.85" r="1.15"/><circle cx="264.78" cy="45.48" r="1.15"/><circle cx="265.56" cy="37.97" r="1.15"/><circle cx="266.55" cy="39.44" r="1.15"/><circle cx="260.74" cy="38.32" r="1.15"/><circle cx="263.81" cy="42.78" r="1.15"/><circle cx="263.41" cy="34.07" r="1.15"/><circle cx="265.04" cy="37.85" r="1.15"/><circle cx="262.24" cy="35.4" r="1.15"/><circle cx="259.37" cy="35.76" r="1.15"/><circle cx="267.24" cy="45.79" r="1.15"/><circle cx="258.3" cy="41.09" r="1.15"/><circle cx="268.37" cy="41.36" r="1.15"/><circle cx="265.58" cy="36.22" r="1.15"/><circle cx="264.27" cy="38.18" r="1.15"/><circle cx="261.16" cy="45.34" r="1.15"/><circle cx="260.59" cy="35.55" r="1.15"/><circle cx="264.72" cy="40.14" r="1.15"/><circle cx="261.74" cy="35.69" r="1.15"/><circle cx="265.87" cy="39.16" r="1.15"/><circle cx="263.52" cy="38.88" r="1.15"/><circle cx="261.86" cy="40.7" r="1.15"/><circle cx="262.48" cy="44.8" r="1.15"/><circle cx="263.15" cy="44.9" r="1.15"/><circle cx="265.67" cy="45.33" r="1.15"/><circle cx="264.23" cy="41.81" r="1.15"/><circle cx="269.03" cy="37.48" r="1.15"/><circle cx="263.35" cy="40.36" r="1.15"/><circle cx="260.7" cy="36.72" r="1.15"/><circle cx="256.6" cy="39.31" r="1.15"/><circle cx="261.66" cy="44.66" r="1.15"/><circle cx="260.41" cy="37.48" r="1.15"/><circle cx="267.36" cy="43.16" r="1.15"/><circle cx="259.29" cy="35.89" r="1.15"/><circle cx="263.31" cy="44.9" r="1.15"/><circle cx="262.13" cy="34.52" r="1.15"/><circle cx="261.51" cy="41.91" r="1.15"/><circle cx="269.86" cy="37.91" r="1.15"/><circle cx="269.85" cy="42.59" r="1.15"/><circle cx="258.01" cy="38.62" r="1.15"/><circle cx="263.22" cy="41.61" r="1.15"/><circle cx="267.14" cy="42.25" r="1.15"/><circle cx="264.01" cy="33.13" r="1.15"/><circle cx="261.36" cy="43.95" r="1.15"/><circle cx="266.38" cy="36.15" r="1.15"/><circle cx="261.98" cy="33.96" r="1.15"/><circle cx="264.42" cy="39.44" r="1.15"/><circle cx="261.69" cy="45.98" r="1.15"/><circle cx="265.27" cy="35.71" r="1.15"/><circle cx="260.77" cy="42" r="1.15"/><circle cx="261.6" cy="34.16" r="1.15"/><circle cx="268.72" cy="41.1" r="1.15"/><circle cx="264.08" cy="33.66" r="1.15"/><circle cx="264.8" cy="35.12" r="1.15"/><circle cx="263" cy="44.17" r="1.15"/><circle cx="265.85" cy="39.38" r="1.15"/><circle cx="266.74" cy="45.09" r="1.15"/><circle cx="263.98" cy="40.63" r="1.15"/><circle cx="263.87" cy="34.03" r="1.15"/><circle cx="264.24" cy="38.03" r="1.15"/><circle cx="257.62" cy="42.6" r="1.15"/><circle cx="265.58" cy="39.18" r="1.15"/><circle cx="269.39" cy="38.98" r="1.15"/><circle cx="263.48" cy="41.57" r="1.15"/><circle cx="269.11" cy="36.42" r="1.15"/><circle cx="267.52" cy="36.56" r="1.15"/><circle cx="264.91" cy="41.66" r="1.15"/><circle cx="263.3" cy="43.35" r="1.15"/><circle cx="266.48" cy="41.32" r="1.15"/><circle cx="264.38" cy="35.96" r="1.15"/><circle cx="269.03" cy="40.67" r="1.15"/><circle cx="263.21" cy="38.66" r="1.15"/><circle cx="258.02" cy="39.64" r="1.15"/><circle cx="264.18" cy="35.29" r="1.15"/><circle cx="265.72" cy="38.72" r="1.15"/><circle cx="263.72" cy="39.92" r="1.15"/><circle cx="266.23" cy="34.82" r="1.15"/><circle cx="258.74" cy="37.92" r="1.15"/><circle cx="263.8" cy="44.16" r="1.15"/><circle cx="266.84" cy="37.34" r="1.15"/><circle cx="261.79" cy="42.39" r="1.15"/><circle cx="261.51" cy="38.8" r="1.15"/><circle cx="267.71" cy="44.73" r="1.15"/><circle cx="266.7" cy="35.66" r="1.15"/><circle cx="258.99" cy="40.69" r="1.15"/><circle cx="266.92" cy="44.02" r="1.15"/><circle cx="263.25" cy="43.55" r="1.15"/><circle cx="259.34" cy="37.82" r="1.15"/><circle cx="262.38" cy="44.07" r="1.15"/><circle cx="266.22" cy="34.19" r="1.15"/><circle cx="260.78" cy="41.45" r="1.15"/><circle cx="268.66" cy="36.5" r="1.15"/><circle cx="264.26" cy="44.51" r="1.15"/><circle cx="262.19" cy="37.85" r="1.15"/><circle cx="266.52" cy="38.8" r="1.15"/><circle cx="259.53" cy="44.34" r="1.15"/><circle cx="264.21" cy="42.08" r="1.15"/><circle cx="260.36" cy="42.4" r="1.15"/><circle cx="261.05" cy="41.79" r="1.15"/><circle cx="264.34" cy="37.33" r="1.15"/><circle cx="266.23" cy="43.87" r="1.15"/><circle cx="267.26" cy="35.39" r="1.15"/><circle cx="263.45" cy="44.33" r="1.15"/><circle cx="263.28" cy="43.19" r="1.15"/><circle cx="257.44" cy="41.11" r="1.15"/><circle cx="258.76" cy="37.59" r="1.15"/><circle cx="265.16" cy="44.55" r="1.15"/><circle cx="265.78" cy="33.86" r="1.15"/><circle cx="259.93" cy="35.38" r="1.15"/><circle cx="262.05" cy="45.86" r="1.15"/><circle cx="266.98" cy="34.4" r="1.15"/><circle cx="263.42" cy="34.43" r="1.15"/><circle cx="260.39" cy="42.88" r="1.15"/><circle cx="257.29" cy="40.3" r="1.15"/><circle cx="262.51" cy="36.63" r="1.15"/><circle cx="258.52" cy="39.05" r="1.15"/><circle cx="263.24" cy="33.94" r="1.15"/><circle cx="262.5" cy="34.12" r="1.15"/><circle cx="258.31" cy="37.81" r="1.15"/><circle cx="261.34" cy="37.85" r="1.15"/><circle cx="267.96" cy="39.85" r="1.15"/><circle cx="260.19" cy="35.64" r="1.15"/><circle cx="258.3" cy="36.93" r="1.15"/><circle cx="259.36" cy="37.14" r="1.15"/><circle cx="262.94" cy="44.97" r="1.15"/><circle cx="264.95" cy="37.3" r="1.15"/><circle cx="262.4" cy="40.4" r="1.15"/><circle cx="262.96" cy="39.86" r="1.15"/><circle cx="258.32" cy="40.18" r="1.15"/><circle cx="262.07" cy="42.7" r="1.15"/><circle cx="268.18" cy="39.84" r="1.15"/><circle cx="266.23" cy="36.89" r="1.15"/><circle cx="266.08" cy="45.81" r="1.15"/><circle cx="262.13" cy="35.26" r="1.15"/><circle cx="262.19" cy="45.74" r="1.15"/><circle cx="261.63" cy="33.29" r="1.15"/><circle cx="260.01" cy="38.93" r="1.15"/><circle cx="265.97" cy="45.11" r="1.15"/><circle cx="266.58" cy="38.03" r="1.15"/><circle cx="262.1" cy="43.25" r="1.15"/><circle cx="268.63" cy="41.88" r="1.15"/><circle cx="262.39" cy="43.09" r="1.15"/><circle cx="257.98" cy="39.92" r="1.15"/><circle cx="257.17" cy="42.87" r="1.15"/><circle cx="268.85" cy="44.5" r="1.15"/><circle cx="265.31" cy="37.44" r="1.15"/><circle cx="263.46" cy="39.05" r="1.15"/><circle cx="268.74" cy="40.23" r="1.15"/><circle cx="264.91" cy="41.69" r="1.15"/><circle cx="265.57" cy="36.78" r="1.15"/><circle cx="268.97" cy="38.69" r="1.15"/><circle cx="269.26" cy="38.15" r="1.15"/><circle cx="262.84" cy="32.81" r="1.15"/><circle cx="266.32" cy="37.91" r="1.15"/><circle cx="258.9" cy="36.5" r="1.15"/><circle cx="268.1" cy="38.22" r="1.15"/><circle cx="262.97" cy="42.07" r="1.15"/><circle cx="266.68" cy="42.52" r="1.15"/><circle cx="259.1" cy="38.04" r="1.15"/><circle cx="264.25" cy="39.44" r="1.15"/><circle cx="258.4" cy="38.61" r="1.15"/><circle cx="267.02" cy="37.48" r="1.15"/><circle cx="265.64" cy="40.01" r="1.15"/><circle cx="263.32" cy="38.58" r="1.15"/><circle cx="263.5" cy="33.61" r="1.15"/><circle cx="268.36" cy="41.08" r="1.15"/><circle cx="265" cy="39.39" r="1.15"/><circle cx="262" cy="35.64" r="1.15"/><circle cx="259.44" cy="41.64" r="1.15"/><circle cx="265.22" cy="37.12" r="1.15"/><circle cx="258.1" cy="40.13" r="1.15"/><circle cx="260.02" cy="44.28" r="1.15"/><circle cx="260.44" cy="38.23" r="1.15"/><circle cx="269.58" cy="41.18" r="1.15"/><circle cx="260.9" cy="41.83" r="1.15"/><circle cx="260.17" cy="34.95" r="1.15"/><circle cx="268.93" cy="43.64" r="1.15"/><circle cx="262.59" cy="38.81" r="1.15"/><circle cx="266.78" cy="41.14" r="1.15"/><circle cx="260.81" cy="34.42" r="1.15"/><circle cx="269.15" cy="38.85" r="1.15"/><circle cx="261.5" cy="34.32" r="1.15"/><circle cx="263.56" cy="36.45" r="1.15"/><circle cx="258.58" cy="38.97" r="1.15"/><circle cx="263.76" cy="41.1" r="1.15"/><circle cx="268.92" cy="39.03" r="1.15"/><circle cx="268.32" cy="35.78" r="1.15"/><circle cx="262.14" cy="42.91" r="1.15"/><circle cx="260.27" cy="42.77" r="1.15"/><circle cx="265.33" cy="39.69" r="1.15"/><circle cx="265.78" cy="41.25" r="1.15"/><circle cx="259.53" cy="34.84" r="1.15"/><circle cx="267.58" cy="41.75" r="1.15"/><circle cx="270.39" cy="39.82" r="1.15"/><circle cx="261.45" cy="40.01" r="1.15"/><circle cx="263.36" cy="41.85" r="1.15"/><circle cx="268.19" cy="41.76" r="1.15"/><circle cx="265.94" cy="40.14" r="1.15"/><circle cx="264.05" cy="40.6" r="1.15"/><circle cx="261.95" cy="44.5" r="1.15"/><circle cx="268.59" cy="43.88" r="1.15"/><circle cx="268.06" cy="37.35" r="1.15"/><circle cx="261.64" cy="34.48" r="1.15"/><circle cx="267.66" cy="39.64" r="1.15"/><circle cx="263.81" cy="39.11" r="1.15"/><circle cx="262.47" cy="34.62" r="1.15"/><circle cx="260.08" cy="43.26" r="1.15"/><circle cx="267.29" cy="37.92" r="1.15"/><circle cx="259.12" cy="41.74" r="1.15"/><circle cx="263.5" cy="36.91" r="1.15"/><circle cx="258.61" cy="42.13" r="1.15"/><circle cx="259.1" cy="40.18" r="1.15"/><circle cx="269.86" cy="40.08" r="1.15"/><circle cx="262.51" cy="41.19" r="1.15"/><circle cx="264.27" cy="34" r="1.15"/><circle cx="260.01" cy="33.24" r="1.15"/><circle cx="261.79" cy="36.56" r="1.15"/><circle cx="267.92" cy="38.44" r="1.15"/><circle cx="260.04" cy="33.65" r="1.15"/><circle cx="263.55" cy="39.91" r="1.15"/><circle cx="257.96" cy="40.14" r="1.15"/><circle cx="265.18" cy="39.25" r="1.15"/><circle cx="268.26" cy="35.25" r="1.15"/><circle cx="260.14" cy="45.46" r="1.15"/><circle cx="263.58" cy="33.63" r="1.15"/><circle cx="267.05" cy="44.13" r="1.15"/><circle cx="263.17" cy="46.29" r="1.15"/><circle cx="262.09" cy="44.96" r="1.15"/><circle cx="260.9" cy="39.17" r="1.15"/><circle cx="266.02" cy="34.33" r="1.15"/><circle cx="267.63" cy="45.07" r="1.15"/><circle cx="262.06" cy="45.2" r="1.15"/><circle cx="268.32" cy="38.23" r="1.15"/><circle cx="262.16" cy="37.55" r="1.15"/><circle cx="263.94" cy="45.04" r="1.15"/><circle cx="260.66" cy="36.6" r="1.15"/><circle cx="264.11" cy="41.3" r="1.15"/><circle cx="261.57" cy="40.55" r="1.15"/><circle cx="265.33" cy="37.52" r="1.15"/><circle cx="260.26" cy="41.87" r="1.15"/><circle cx="269.97" cy="44.04" r="1.15"/><circle cx="259.19" cy="38.23" r="1.15"/><circle cx="266.47" cy="35.54" r="1.15"/><circle cx="267.11" cy="33.63" r="1.15"/><circle cx="263.22" cy="40.76" r="1.15"/><circle cx="263.77" cy="41.34" r="1.15"/><circle cx="259.12" cy="35.42" r="1.15"/><circle cx="269.25" cy="40.12" r="1.15"/><circle cx="261.69" cy="36.55" r="1.15"/><circle cx="267.2" cy="40.23" r="1.15"/><circle cx="261.64" cy="33.05" r="1.15"/><circle cx="259.81" cy="40.73" r="1.15"/><circle cx="269.76" cy="40.87" r="1.15"/><circle cx="266.34" cy="41.65" r="1.15"/><circle cx="270.73" cy="38.28" r="1.15"/><circle cx="268.7" cy="43.81" r="1.15"/><circle cx="262.23" cy="34.21" r="1.15"/><circle cx="265.51" cy="46.15" r="1.15"/><circle cx="263.44" cy="35.94" r="1.15"/><circle cx="264.59" cy="37.87" r="1.15"/><circle cx="262.7" cy="41.8" r="1.15"/><circle cx="264.05" cy="42.56" r="1.15"/><circle cx="263.65" cy="38.9" r="1.15"/><circle cx="263.63" cy="41.15" r="1.15"/><circle cx="262.19" cy="46.77" r="1.15"/><circle cx="266.08" cy="39" r="1.15"/><circle cx="267.65" cy="45.81" r="1.15"/><circle cx="262.12" cy="35.71" r="1.15"/><circle cx="267.39" cy="36.59" r="1.15"/><circle cx="264.46" cy="42.29" r="1.15"/><circle cx="264.42" cy="35.39" r="1.15"/><circle cx="266.81" cy="38.39" r="1.15"/><circle cx="264.49" cy="43.51" r="1.15"/><circle cx="261.48" cy="41.31" r="1.15"/><circle cx="259.58" cy="43.41" r="1.15"/><circle cx="265.48" cy="40.19" r="1.15"/><circle cx="263.32" cy="36.67" r="1.15"/><circle cx="261.89" cy="42.16" r="1.15"/><circle cx="256.62" cy="43.03" r="1.15"/><circle cx="265.67" cy="39.58" r="1.15"/><circle cx="265.4" cy="39.29" r="1.15"/><circle cx="260.22" cy="44" r="1.15"/><circle cx="266.08" cy="37.23" r="1.15"/><circle cx="269.47" cy="42.22" r="1.15"/><circle cx="263.77" cy="44.72" r="1.15"/><circle cx="262.84" cy="44.05" r="1.15"/><circle cx="264.01" cy="45.98" r="1.15"/><circle cx="263.61" cy="41.32" r="1.15"/><circle cx="261.58" cy="35.84" r="1.15"/><circle cx="263.05" cy="45.25" r="1.15"/><circle cx="266.99" cy="36.48" r="1.15"/><circle cx="267.63" cy="43.77" r="1.15"/><circle cx="264.07" cy="38.01" r="1.15"/><circle cx="258.1" cy="43.73" r="1.15"/><circle cx="262.79" cy="39.36" r="1.15"/><circle cx="258.01" cy="38.2" r="1.15"/><circle cx="263.77" cy="45.53" r="1.15"/><circle cx="264.35" cy="43.87" r="1.15"/><circle cx="268.1" cy="41.71" r="1.15"/><circle cx="261.46" cy="38.49" r="1.15"/><circle cx="268.01" cy="35.74" r="1.15"/><circle cx="264.37" cy="35.29" r="1.15"/><circle cx="268.93" cy="44.83" r="1.15"/><circle cx="259.08" cy="37.92" r="1.15"/><circle cx="262.78" cy="39.03" r="1.15"/></g>
<g fill="#9fc5db"><circle cx="259.35" cy="74.04" r="1.15"/><circle cx="258.99" cy="76.47" r="1.15"/><circle cx="262.5" cy="74.42" r="1.15"/><circle cx="263.47" cy="72.34" r="1.15"/><circle cx="254.92" cy="71.16" r="1.15"/><circle cx="261.78" cy="68.59" r="1.15"/><circle cx="261.85" cy="74.8" r="1.15"/><circle cx="258.64" cy="73.83" r="1.15"/><circle cx="262.19" cy="75.8" r="1.15"/><circle cx="261.79" cy="75.8" r="1.15"/><circle cx="262.03" cy="77.27" r="1.15"/><circle cx="255.87" cy="74.64" r="1.15"/><circle cx="254.96" cy="71.09" r="1.15"/><circle cx="259.51" cy="68.59" r="1.15"/><circle cx="256.79" cy="75.83" r="1.15"/><circle cx="261.01" cy="65.71" r="1.15"/><circle cx="259.76" cy="70.64" r="1.15"/><circle cx="263.85" cy="70.38" r="1.15"/><circle cx="255.2" cy="73.98" r="1.15"/><circle cx="257.57" cy="71.5" r="1.15"/><circle cx="258.28" cy="71.78" r="1.15"/><circle cx="264.62" cy="70.63" r="1.15"/><circle cx="255.15" cy="67.19" r="1.15"/><circle cx="259.82" cy="71.01" r="1.15"/><circle cx="258.57" cy="76.44" r="1.15"/><circle cx="253.53" cy="70.19" r="1.15"/><circle cx="258.99" cy="76.12" r="1.15"/><circle cx="261.71" cy="70.87" r="1.15"/><circle cx="257.78" cy="70.05" r="1.15"/><circle cx="262.61" cy="70.7" r="1.15"/><circle cx="255.42" cy="72.63" r="1.15"/><circle cx="260.36" cy="73.25" r="1.15"/><circle cx="256.68" cy="73.46" r="1.15"/><circle cx="262.97" cy="74.44" r="1.15"/><circle cx="255.53" cy="68.71" r="1.15"/><circle cx="260.42" cy="76.65" r="1.15"/><circle cx="254.81" cy="70.39" r="1.15"/><circle cx="258.06" cy="74.34" r="1.15"/><circle cx="255.4" cy="71.5" r="1.15"/><circle cx="262.76" cy="72.1" r="1.15"/><circle cx="259.3" cy="76.34" r="1.15"/><circle cx="257.86" cy="77.33" r="1.15"/><circle cx="259.27" cy="69.74" r="1.15"/><circle cx="261.22" cy="69.29" r="1.15"/><circle cx="255.91" cy="74.63" r="1.15"/><circle cx="261.4" cy="73.92" r="1.15"/><circle cx="258.85" cy="69.53" r="1.15"/><circle cx="256.09" cy="75.98" r="1.15"/><circle cx="262.04" cy="67.29" r="1.15"/><circle cx="258.63" cy="66.08" r="1.15"/><circle cx="253.69" cy="72.7" r="1.15"/><circle cx="260.95" cy="70.55" r="1.15"/><circle cx="264.1" cy="71.95" r="1.15"/><circle cx="253.3" cy="71.88" r="1.15"/><circle cx="254.09" cy="74.8" r="1.15"/><circle cx="256.31" cy="69.48" r="1.15"/><circle cx="254.67" cy="73.07" r="1.15"/><circle cx="255.86" cy="74.58" r="1.15"/><circle cx="256.55" cy="77.25" r="1.15"/><circle cx="255.62" cy="71.81" r="1.15"/><circle cx="258.26" cy="74.05" r="1.15"/><circle cx="257.33" cy="70.79" r="1.15"/><circle cx="256.41" cy="77.39" r="1.15"/><circle cx="261.42" cy="71.11" r="1.15"/><circle cx="259.42" cy="71.51" r="1.15"/><circle cx="254.82" cy="69.85" r="1.15"/><circle cx="259.71" cy="66.62" r="1.15"/><circle cx="254.7" cy="71.29" r="1.15"/><circle cx="256.31" cy="74.22" r="1.15"/><circle cx="255.53" cy="76.88" r="1.15"/><circle cx="257.31" cy="71.51" r="1.15"/><circle cx="255.46" cy="74.54" r="1.15"/><circle cx="263.04" cy="67.7" r="1.15"/><circle cx="254.14" cy="73.87" r="1.15"/><circle cx="256.48" cy="75.9" r="1.15"/><circle cx="260.77" cy="75.32" r="1.15"/><circle cx="260.62" cy="68.41" r="1.15"/><circle cx="263.11" cy="68.34" r="1.15"/><circle cx="264.19" cy="71.46" r="1.15"/><circle cx="260.7" cy="74.55" r="1.15"/><circle cx="256.8" cy="71.73" r="1.15"/><circle cx="256.14" cy="68.5" r="1.15"/><circle cx="262.83" cy="71.64" r="1.15"/><circle cx="255" cy="74.48" r="1.15"/><circle cx="258.88" cy="71.47" r="1.15"/><circle cx="261.51" cy="67.66" r="1.15"/><circle cx="260.34" cy="75.95" r="1.15"/><circle cx="258.54" cy="76.75" r="1.15"/><circle cx="263.17" cy="71.72" r="1.15"/><circle cx="260.76" cy="73.62" r="1.15"/><circle cx="260.25" cy="72.87" r="1.15"/><circle cx="253.72" cy="70.99" r="1.15"/><circle cx="259.41" cy="70.6" r="1.15"/><circle cx="259.45" cy="68.1" r="1.15"/><circle cx="257.69" cy="73.65" r="1.15"/><circle cx="263.49" cy="75.3" r="1.15"/><circle cx="256.87" cy="75.01" r="1.15"/><circle cx="264.18" cy="73.8" r="1.15"/><circle cx="262.78" cy="70.74" r="1.15"/><circle cx="259.01" cy="73.27" r="1.15"/><circle cx="261.2" cy="68.72" r="1.15"/><circle cx="260.3" cy="68.61" r="1.15"/><circle cx="263.45" cy="70.57" r="1.15"/><circle cx="259.17" cy="75.9" r="1.15"/><circle cx="259.63" cy="75.57" r="1.15"/><circle cx="254.41" cy="72.29" r="1.15"/><circle cx="260.41" cy="74.71" r="1.15"/><circle cx="262.07" cy="71.2" r="1.15"/><circle cx="261.99" cy="74.64" r="1.15"/><circle cx="257.96" cy="72.58" r="1.15"/><circle cx="260.41" cy="68.85" r="1.15"/><circle cx="259.99" cy="74.57" r="1.15"/><circle cx="263.27" cy="72.83" r="1.15"/><circle cx="261.29" cy="75.49" r="1.15"/><circle cx="258.44" cy="76.66" r="1.15"/><circle cx="253.65" cy="73.95" r="1.15"/><circle cx="260.95" cy="75.09" r="1.15"/><circle cx="255.42" cy="75.58" r="1.15"/><circle cx="262.49" cy="70.6" r="1.15"/><circle cx="256.9" cy="72.49" r="1.15"/><circle cx="258.63" cy="77.76" r="1.15"/><circle cx="257.03" cy="74.12" r="1.15"/><circle cx="260.08" cy="76.66" r="1.15"/><circle cx="255.16" cy="71.46" r="1.15"/><circle cx="259.5" cy="67.84" r="1.15"/><circle cx="256.23" cy="70.44" r="1.15"/><circle cx="261.28" cy="73.28" r="1.15"/><circle cx="257.27" cy="75.71" r="1.15"/><circle cx="255.85" cy="70.4" r="1.15"/><circle cx="258.6" cy="73.21" r="1.15"/><circle cx="259.32" cy="74.11" r="1.15"/><circle cx="258.17" cy="76.13" r="1.15"/><circle cx="259.93" cy="65.44" r="1.15"/><circle cx="260.7" cy="73.8" r="1.15"/><circle cx="257.12" cy="67.52" r="1.15"/><circle cx="254.81" cy="74.57" r="1.15"/><circle cx="259.05" cy="77.15" r="1.15"/><circle cx="257.55" cy="70.15" r="1.15"/><circle cx="263.44" cy="68.87" r="1.15"/><circle cx="259.97" cy="72.07" r="1.15"/><circle cx="259.96" cy="74.86" r="1.15"/><circle cx="262.21" cy="72.67" r="1.15"/><circle cx="261.27" cy="76.99" r="1.15"/><circle cx="258.42" cy="68.84" r="1.15"/><circle cx="257.88" cy="69.04" r="1.15"/><circle cx="261.34" cy="67.48" r="1.15"/><circle cx="264.23" cy="73.36" r="1.15"/><circle cx="261.33" cy="72.57" r="1.15"/><circle cx="259.76" cy="68.71" r="1.15"/><circle cx="258.99" cy="69.89" r="1.15"/><circle cx="254.73" cy="75.44" r="1.15"/><circle cx="258.62" cy="73.87" r="1.15"/><circle cx="253.83" cy="74.69" r="1.15"/><circle cx="258.61" cy="66" r="1.15"/><circle cx="257.65" cy="72.24" r="1.15"/><circle cx="254.83" cy="73.98" r="1.15"/><circle cx="261.92" cy="75.06" r="1.15"/><circle cx="257.63" cy="66.97" r="1.15"/><circle cx="253.41" cy="69.99" r="1.15"/><circle cx="256.67" cy="71.09" r="1.15"/><circle cx="256.95" cy="74.55" r="1.15"/><circle cx="258.17" cy="74.04" r="1.15"/><circle cx="257.79" cy="69.41" r="1.15"/><circle cx="254.69" cy="71.35" r="1.15"/><circle cx="256.92" cy="74.84" r="1.15"/><circle cx="261.53" cy="75.18" r="1.15"/><circle cx="260.82" cy="67.28" r="1.15"/><circle cx="261.32" cy="76.31" r="1.15"/><circle cx="253.65" cy="73.24" r="1.15"/><circle cx="261.19" cy="73.87" r="1.15"/><circle cx="259.35" cy="73.14" r="1.15"/><circle cx="260.52" cy="76.56" r="1.15"/><circle cx="261.42" cy="74.05" r="1.15"/><circle cx="257.7" cy="73.43" r="1.15"/><circle cx="265.1" cy="72.25" r="1.15"/><circle cx="263.81" cy="74.83" r="1.15"/><circle cx="257.28" cy="71.02" r="1.15"/><circle cx="256.71" cy="72.89" r="1.15"/><circle cx="264.69" cy="72.12" r="1.15"/><circle cx="255" cy="67.33" r="1.15"/><circle cx="258.98" cy="74.47" r="1.15"/><circle cx="264.47" cy="72.84" r="1.15"/><circle cx="258.27" cy="74.44" r="1.15"/><circle cx="261.75" cy="67.48" r="1.15"/><circle cx="260.21" cy="65.91" r="1.15"/><circle cx="257.75" cy="74.38" r="1.15"/><circle cx="257.51" cy="75.22" r="1.15"/><circle cx="255.78" cy="75.53" r="1.15"/><circle cx="263.3" cy="73.03" r="1.15"/><circle cx="261.29" cy="66.52" r="1.15"/><circle cx="262.75" cy="70.34" r="1.15"/><circle cx="260.75" cy="74.68" r="1.15"/><circle cx="262.66" cy="73.98" r="1.15"/><circle cx="254.48" cy="73.62" r="1.15"/><circle cx="262.27" cy="72.7" r="1.15"/><circle cx="258.94" cy="71.44" r="1.15"/><circle cx="262.01" cy="67.62" r="1.15"/><circle cx="258.04" cy="76.69" r="1.15"/><circle cx="256.16" cy="73.46" r="1.15"/><circle cx="256.06" cy="66.35" r="1.15"/><circle cx="260.55" cy="74.6" r="1.15"/><circle cx="256.23" cy="70.54" r="1.15"/><circle cx="261.74" cy="73.55" r="1.15"/><circle cx="264.97" cy="70.63" r="1.15"/><circle cx="264.71" cy="70.8" r="1.15"/><circle cx="259.55" cy="70.33" r="1.15"/><circle cx="256.55" cy="69.64" r="1.15"/><circle cx="262.94" cy="70.5" r="1.15"/><circle cx="257.86" cy="75.65" r="1.15"/><circle cx="261.57" cy="72.29" r="1.15"/><circle cx="257.35" cy="72.41" r="1.15"/><circle cx="256.09" cy="75.07" r="1.15"/><circle cx="254.96" cy="70.97" r="1.15"/><circle cx="261.05" cy="73.73" r="1.15"/><circle cx="256.97" cy="71.12" r="1.15"/><circle cx="258.96" cy="73.7" r="1.15"/><circle cx="258.96" cy="76.16" r="1.15"/><circle cx="259.55" cy="75.79" r="1.15"/><circle cx="255.27" cy="71.47" r="1.15"/><circle cx="257.74" cy="72.69" r="1.15"/><circle cx="261.95" cy="68.12" r="1.15"/><circle cx="259.1" cy="69.39" r="1.15"/><circle cx="258.64" cy="69.66" r="1.15"/><circle cx="256.89" cy="73.63" r="1.15"/><circle cx="254.95" cy="69.97" r="1.15"/><circle cx="259.2" cy="70.48" r="1.15"/><circle cx="258.5" cy="72.36" r="1.15"/><circle cx="259.76" cy="75.29" r="1.15"/><circle cx="254.03" cy="74.49" r="1.15"/><circle cx="262.36" cy="68.03" r="1.15"/><circle cx="260.73" cy="69.83" r="1.15"/><circle cx="256.15" cy="76.56" r="1.15"/><circle cx="259.87" cy="69.97" r="1.15"/><circle cx="258.53" cy="65.42" r="1.15"/><circle cx="262.68" cy="72.91" r="1.15"/><circle cx="254.78" cy="70.36" r="1.15"/><circle cx="262.82" cy="69.71" r="1.15"/><circle cx="260.47" cy="76.06" r="1.15"/><circle cx="257.6" cy="70.95" r="1.15"/><circle cx="262.49" cy="74.93" r="1.15"/><circle cx="255.94" cy="70.63" r="1.15"/><circle cx="266.87" cy="80.66" r="1.15"/><circle cx="265.24" cy="78.15" r="1.15"/><circle cx="268.97" cy="80.98" r="1.15"/><circle cx="269.5" cy="83.33" r="1.15"/><circle cx="268.92" cy="80.58" r="1.15"/><circle cx="270.77" cy="80.06" r="1.15"/><circle cx="266.66" cy="79.87" r="1.15"/><circle cx="264.68" cy="80.23" r="1.15"/><circle cx="270.03" cy="82.44" r="1.15"/><circle cx="271.07" cy="81.19" r="1.15"/><circle cx="268.96" cy="82.62" r="1.15"/><circle cx="266.77" cy="78.93" r="1.15"/><circle cx="271.33" cy="82.62" r="1.15"/><circle cx="271.48" cy="82.93" r="1.15"/><circle cx="269.9" cy="81.99" r="1.15"/><circle cx="267.52" cy="81.73" r="1.15"/><circle cx="267.27" cy="82.29" r="1.15"/><circle cx="272.03" cy="82.3" r="1.15"/><circle cx="265.33" cy="77.77" r="1.15"/><circle cx="270.09" cy="79.34" r="1.15"/><circle cx="266.4" cy="80.82" r="1.15"/><circle cx="272.33" cy="80.97" r="1.15"/><circle cx="266.08" cy="81.94" r="1.15"/><circle cx="265.54" cy="78.86" r="1.15"/><circle cx="266.66" cy="79.17" r="1.15"/><circle cx="266.38" cy="81.17" r="1.15"/><circle cx="266.22" cy="79.59" r="1.15"/><circle cx="268.02" cy="82.03" r="1.15"/><circle cx="272.11" cy="83.13" r="1.15"/><circle cx="265.54" cy="79.68" r="1.15"/><circle cx="268.69" cy="81.54" r="1.15"/><circle cx="266.19" cy="81.78" r="1.15"/><circle cx="271.29" cy="81.76" r="1.15"/><circle cx="267.79" cy="79.99" r="1.15"/><circle cx="265.8" cy="77.79" r="1.15"/><circle cx="269.9" cy="79.51" r="1.15"/><circle cx="270.94" cy="83.26" r="1.15"/><circle cx="267.67" cy="81.54" r="1.15"/><circle cx="269" cy="82.51" r="1.15"/><circle cx="268.21" cy="82.27" r="1.15"/><circle cx="266.17" cy="77.63" r="1.15"/><circle cx="268.57" cy="83.6" r="1.15"/><circle cx="267.74" cy="79.79" r="1.15"/><circle cx="270.43" cy="80.91" r="1.15"/><circle cx="268.74" cy="83.2" r="1.15"/><circle cx="267.17" cy="78.01" r="1.15"/><circle cx="265.76" cy="81.5" r="1.15"/><circle cx="265.35" cy="80.16" r="1.15"/><circle cx="270.28" cy="82.46" r="1.15"/><circle cx="267.43" cy="78.93" r="1.15"/><circle cx="267.25" cy="79.18" r="1.15"/><circle cx="272.3" cy="83.37" r="1.15"/><circle cx="269.5" cy="81.36" r="1.15"/><circle cx="268.82" cy="79.55" r="1.15"/><circle cx="268.96" cy="82.09" r="1.15"/><circle cx="270.84" cy="83.63" r="1.15"/><circle cx="265.72" cy="78.54" r="1.15"/><circle cx="267.7" cy="78.5" r="1.15"/><circle cx="269.09" cy="79.56" r="1.15"/><circle cx="269.86" cy="79.2" r="1.15"/><circle cx="270.32" cy="79.07" r="1.15"/><circle cx="266.84" cy="82.2" r="1.15"/><circle cx="268.66" cy="81.11" r="1.15"/><circle cx="267.54" cy="78.16" r="1.15"/><circle cx="270.61" cy="81.99" r="1.15"/><circle cx="268.89" cy="81.27" r="1.15"/><circle cx="270.82" cy="83.01" r="1.15"/><circle cx="268.93" cy="83.55" r="1.15"/><circle cx="269.09" cy="82.25" r="1.15"/><circle cx="269.9" cy="81.19" r="1.15"/><circle cx="269.64" cy="79.84" r="1.15"/><circle cx="265.48" cy="78.96" r="1.15"/><circle cx="270.09" cy="79.98" r="1.15"/><circle cx="269.93" cy="81.08" r="1.15"/><circle cx="270.93" cy="83.21" r="1.15"/><circle cx="269.4" cy="80.8" r="1.15"/><circle cx="264.01" cy="79.8" r="1.15"/><circle cx="267.7" cy="79.39" r="1.15"/><circle cx="267.53" cy="81.97" r="1.15"/><circle cx="268.4" cy="83.32" r="1.15"/><circle cx="266.29" cy="81.99" r="1.15"/><circle cx="267.14" cy="79.41" r="1.15"/><circle cx="270.56" cy="80.85" r="1.15"/><circle cx="269.98" cy="80.38" r="1.15"/><circle cx="265.07" cy="78.92" r="1.15"/><circle cx="268.17" cy="78.55" r="1.15"/><circle cx="261.32" cy="75.59" r="1.15"/><circle cx="264.1" cy="75.51" r="1.15"/><circle cx="263.7" cy="75.68" r="1.15"/><circle cx="264.03" cy="76.47" r="1.15"/><circle cx="264.42" cy="77.7" r="1.15"/><circle cx="263.8" cy="76" r="1.15"/><circle cx="263.8" cy="77.06" r="1.15"/><circle cx="264.26" cy="77.3" r="1.15"/><circle cx="262.49" cy="74.1" r="1.15"/><circle cx="264.17" cy="76.75" r="1.15"/><circle cx="262.84" cy="76.09" r="1.15"/><circle cx="263.15" cy="77.77" r="1.15"/><circle cx="265.09" cy="76.76" r="1.15"/><circle cx="263.56" cy="75.96" r="1.15"/><circle cx="263.86" cy="77.49" r="1.15"/><circle cx="262.63" cy="75.64" r="1.15"/><circle cx="262.28" cy="76.5" r="1.15"/><circle cx="260.95" cy="76.55" r="1.15"/><circle cx="263.54" cy="78.94" r="1.15"/><circle cx="262.88" cy="75.46" r="1.15"/><circle cx="262.95" cy="77" r="1.15"/><circle cx="261.54" cy="76.42" r="1.15"/><circle cx="262.84" cy="76.69" r="1.15"/><circle cx="262.04" cy="75.12" r="1.15"/><circle cx="262.08" cy="74.17" r="1.15"/><circle cx="262.73" cy="75.19" r="1.15"/><circle cx="261.13" cy="77.54" r="1.15"/><circle cx="262.05" cy="77.34" r="1.15"/><circle cx="263.17" cy="76.5" r="1.15"/><circle cx="264.05" cy="75.97" r="1.15"/><circle cx="262.29" cy="77.19" r="1.15"/><circle cx="264.69" cy="78.01" r="1.15"/><circle cx="263.45" cy="76.21" r="1.15"/><circle cx="262.17" cy="78.14" r="1.15"/><circle cx="262.26" cy="78.19" r="1.15"/><circle cx="262.95" cy="74.41" r="1.15"/><circle cx="261.29" cy="75.38" r="1.15"/><circle cx="261.72" cy="75.15" r="1.15"/><circle cx="262.66" cy="75.12" r="1.15"/><circle cx="261.68" cy="75.37" r="1.15"/></g>
<g fill="#2f9a3b"><circle cx="231.07" cy="84.19" r="1.15"/><circle cx="231.12" cy="84.47" r="1.15"/><circle cx="229.97" cy="85.89" r="1.15"/><circle cx="231.22" cy="85.66" r="1.15"/><circle cx="234.29" cy="84.63" r="1.15"/><circle cx="230.06" cy="85.12" r="1.15"/><circle cx="233.61" cy="87.63" r="1.15"/><circle cx="230.52" cy="83.35" r="1.15"/><circle cx="232.79" cy="85.1" r="1.15"/><circle cx="233.52" cy="83.64" r="1.15"/><circle cx="233.11" cy="86.47" r="1.15"/><circle cx="230.79" cy="87.41" r="1.15"/><circle cx="231.61" cy="85.73" r="1.15"/><circle cx="234.76" cy="85.46" r="1.15"/><circle cx="229.63" cy="85.86" r="1.15"/><circle cx="233.74" cy="87.22" r="1.15"/><circle cx="231.07" cy="85.34" r="1.15"/><circle cx="231.6" cy="86.68" r="1.15"/><circle cx="232.96" cy="87.16" r="1.15"/><circle cx="233.38" cy="87.41" r="1.15"/><circle cx="231.69" cy="86.82" r="1.15"/><circle cx="234.56" cy="86.81" r="1.15"/><circle cx="233.01" cy="87.34" r="1.15"/><circle cx="231.3" cy="84.56" r="1.15"/><circle cx="230.65" cy="86.12" r="1.15"/><circle cx="231.86" cy="87.24" r="1.15"/><circle cx="233.01" cy="84.07" r="1.15"/><circle cx="230.21" cy="84.39" r="1.15"/><circle cx="234.69" cy="85.11" r="1.15"/><circle cx="231.68" cy="84.35" r="1.15"/><circle cx="232.47" cy="83.82" r="1.15"/><circle cx="229.43" cy="85.56" r="1.15"/><circle cx="234.56" cy="85.83" r="1.15"/><circle cx="229.91" cy="86.07" r="1.15"/><circle cx="229.77" cy="85.91" r="1.15"/><circle cx="230.12" cy="85.62" r="1.15"/><circle cx="231.25" cy="83.53" r="1.15"/><circle cx="234.74" cy="86.07" r="1.15"/><circle cx="232.67" cy="83.45" r="1.15"/><circle cx="232.56" cy="86.32" r="1.15"/><circle cx="233.14" cy="86.02" r="1.15"/><circle cx="231.74" cy="85.24" r="1.15"/><circle cx="231.99" cy="83.95" r="1.15"/><circle cx="231.71" cy="83.83" r="1.15"/><circle cx="235.33" cy="85.47" r="1.15"/><circle cx="233.42" cy="86.74" r="1.15"/><circle cx="235.05" cy="85.59" r="1.15"/><circle cx="232.29" cy="86.88" r="1.15"/><circle cx="233.76" cy="83.93" r="1.15"/><circle cx="231.87" cy="85.77" r="1.15"/><circle cx="234.33" cy="83.49" r="1.15"/><circle cx="232.35" cy="86.53" r="1.15"/><circle cx="230.71" cy="85.13" r="1.15"/><circle cx="230.3" cy="85.64" r="1.15"/><circle cx="232.87" cy="84.19" r="1.15"/><circle cx="231.83" cy="85.3" r="1.15"/><circle cx="230.56" cy="85.14" r="1.15"/><circle cx="231.66" cy="86.89" r="1.15"/><circle cx="235.46" cy="96.18" r="1.15"/><circle cx="233.19" cy="89.3" r="1.15"/><circle cx="232.61" cy="92.92" r="1.15"/><circle cx="233.33" cy="92.93" r="1.15"/><circle cx="237.8" cy="90.4" r="1.15"/><circle cx="239.12" cy="96.13" r="1.15"/><circle cx="238.1" cy="87.8" r="1.15"/><circle cx="235.56" cy="89.22" r="1.15"/><circle cx="238.08" cy="89.57" r="1.15"/><circle cx="237.21" cy="92.88" r="1.15"/><circle cx="237.93" cy="86.67" r="1.15"/><circle cx="235.06" cy="88.97" r="1.15"/><circle cx="236.07" cy="89.89" r="1.15"/><circle cx="236.38" cy="90.38" r="1.15"/><circle cx="236.05" cy="93.99" r="1.15"/><circle cx="235.25" cy="94.64" r="1.15"/><circle cx="239.81" cy="89.76" r="1.15"/><circle cx="240.15" cy="95.92" r="1.15"/><circle cx="236.05" cy="92.07" r="1.15"/><circle cx="235.1" cy="89.56" r="1.15"/><circle cx="240.2" cy="93.62" r="1.15"/><circle cx="233.18" cy="93.1" r="1.15"/><circle cx="237.85" cy="89.67" r="1.15"/><circle cx="242.25" cy="91.38" r="1.15"/><circle cx="235.9" cy="94.73" r="1.15"/><circle cx="232.15" cy="91.59" r="1.15"/><circle cx="231.47" cy="91.98" r="1.15"/><circle cx="235.39" cy="91.15" r="1.15"/><circle cx="236.02" cy="96.95" r="1.15"/><circle cx="237.45" cy="95.69" r="1.15"/><circle cx="232.57" cy="88.67" r="1.15"/><circle cx="240.41" cy="90.27" r="1.15"/><circle cx="235.09" cy="94.28" r="1.15"/><circle cx="236.68" cy="89.08" r="1.15"/><circle cx="236.35" cy="92.84" r="1.15"/><circle cx="240.55" cy="93.9" r="1.15"/><circle cx="234.16" cy="89.81" r="1.15"/><circle cx="234.98" cy="91.36" r="1.15"/><circle cx="239.52" cy="94.28" r="1.15"/><circle cx="233.95" cy="94.17" r="1.15"/><circle cx="239.27" cy="95.69" r="1.15"/><circle cx="239.64" cy="87.45" r="1.15"/><circle cx="237.94" cy="92.95" r="1.15"/><circle cx="239.75" cy="94" r="1.15"/><circle cx="239.31" cy="93.63" r="1.15"/><circle cx="233.1" cy="90.72" r="1.15"/><circle cx="237.83" cy="94.33" r="1.15"/><circle cx="238.94" cy="93.56" r="1.15"/><circle cx="232.39" cy="91.45" r="1.15"/><circle cx="240.81" cy="90.1" r="1.15"/><circle cx="232.99" cy="89.81" r="1.15"/><circle cx="236.8" cy="89.61" r="1.15"/><circle cx="240.25" cy="92.14" r="1.15"/><circle cx="235.62" cy="95.6" r="1.15"/><circle cx="234.35" cy="90.27" r="1.15"/><circle cx="237.65" cy="87.83" r="1.15"/><circle cx="236.93" cy="96.19" r="1.15"/><circle cx="241.31" cy="92.62" r="1.15"/><circle cx="238.22" cy="88.41" r="1.15"/><circle cx="232.45" cy="92.5" r="1.15"/><circle cx="240.03" cy="90.31" r="1.15"/><circle cx="239.33" cy="92.96" r="1.15"/><circle cx="235.91" cy="89.76" r="1.15"/><circle cx="238.23" cy="93.13" r="1.15"/><circle cx="233.67" cy="96.75" r="1.15"/><circle cx="237.8" cy="88.01" r="1.15"/><circle cx="237.85" cy="86.2" r="1.15"/><circle cx="235.1" cy="89.67" r="1.15"/><circle cx="239.22" cy="88.2" r="1.15"/><circle cx="236.21" cy="88.82" r="1.15"/><circle cx="241.64" cy="90.51" r="1.15"/><circle cx="240.65" cy="95.58" r="1.15"/><circle cx="241.22" cy="88.68" r="1.15"/><circle cx="238.15" cy="87.78" r="1.15"/><circle cx="239.33" cy="86.87" r="1.15"/><circle cx="235.13" cy="96.43" r="1.15"/><circle cx="238.87" cy="90.82" r="1.15"/><circle cx="237.53" cy="88.66" r="1.15"/><circle cx="237.07" cy="93.78" r="1.15"/><circle cx="237.17" cy="95.65" r="1.15"/><circle cx="235.01" cy="87.6" r="1.15"/><circle cx="237.91" cy="86.68" r="1.15"/><circle cx="241.39" cy="89.85" r="1.15"/><circle cx="241.08" cy="93.94" r="1.15"/><circle cx="234.25" cy="95.29" r="1.15"/><circle cx="236.9" cy="91.16" r="1.15"/><circle cx="238.84" cy="91.7" r="1.15"/><circle cx="233.07" cy="93.46" r="1.15"/><circle cx="235.55" cy="93.47" r="1.15"/><circle cx="239.09" cy="88.33" r="1.15"/><circle cx="239.44" cy="93.02" r="1.15"/><circle cx="232.13" cy="93.17" r="1.15"/><circle cx="239.64" cy="94.01" r="1.15"/><circle cx="237.78" cy="89.64" r="1.15"/><circle cx="239.74" cy="90.75" r="1.15"/><circle cx="240.6" cy="88.56" r="1.15"/><circle cx="233.22" cy="94.12" r="1.15"/><circle cx="231.83" cy="91.3" r="1.15"/><circle cx="237.9" cy="89.64" r="1.15"/><circle cx="239.48" cy="91.51" r="1.15"/><circle cx="232.38" cy="92.71" r="1.15"/><circle cx="235.72" cy="92.85" r="1.15"/><circle cx="239.29" cy="88.77" r="1.15"/><circle cx="241.82" cy="89.24" r="1.15"/><circle cx="240.64" cy="93.36" r="1.15"/><circle cx="240.21" cy="90.63" r="1.15"/><circle cx="234.47" cy="89.12" r="1.15"/><circle cx="234.43" cy="87.05" r="1.15"/><circle cx="233.72" cy="94.82" r="1.15"/><circle cx="239.19" cy="87.71" r="1.15"/><circle cx="231.63" cy="93.15" r="1.15"/><circle cx="236.26" cy="87.71" r="1.15"/><circle cx="235.72" cy="93.48" r="1.15"/><circle cx="238.49" cy="90.21" r="1.15"/><circle cx="235.77" cy="91" r="1.15"/><circle cx="236.73" cy="87.63" r="1.15"/><circle cx="237.04" cy="88.65" r="1.15"/><circle cx="231.71" cy="94.09" r="1.15"/><circle cx="238.29" cy="87.62" r="1.15"/><circle cx="241.67" cy="90.42" r="1.15"/><circle cx="236.4" cy="93.62" r="1.15"/><circle cx="238.96" cy="87.58" r="1.15"/><circle cx="239.68" cy="94.75" r="1.15"/><circle cx="239.04" cy="94.9" r="1.15"/><circle cx="236.34" cy="92.54" r="1.15"/><circle cx="232.1" cy="95.47" r="1.15"/><circle cx="238.17" cy="94.58" r="1.15"/><circle cx="237.81" cy="94.24" r="1.15"/><circle cx="238.93" cy="93.12" r="1.15"/><circle cx="233" cy="94.61" r="1.15"/><circle cx="238.29" cy="96.19" r="1.15"/><circle cx="239.33" cy="87.61" r="1.15"/><circle cx="235.87" cy="93.53" r="1.15"/><circle cx="232.47" cy="92.27" r="1.15"/><circle cx="236.85" cy="88.89" r="1.15"/><circle cx="240.08" cy="89.75" r="1.15"/><circle cx="234.68" cy="89.38" r="1.15"/><circle cx="241.81" cy="92.75" r="1.15"/><circle cx="233.78" cy="95.21" r="1.15"/><circle cx="236.86" cy="92.9" r="1.15"/><circle cx="236.9" cy="87.33" r="1.15"/><circle cx="237.42" cy="89.98" r="1.15"/><circle cx="233.28" cy="87.27" r="1.15"/><circle cx="235.11" cy="87.36" r="1.15"/><circle cx="241.04" cy="89.94" r="1.15"/><circle cx="233.09" cy="94.28" r="1.15"/><circle cx="238.87" cy="96.03" r="1.15"/><circle cx="231.67" cy="90.86" r="1.15"/><circle cx="238.66" cy="93.43" r="1.15"/><circle cx="233.02" cy="93.64" r="1.15"/><circle cx="234.77" cy="88.16" r="1.15"/><circle cx="233.89" cy="90.14" r="1.15"/><circle cx="237.88" cy="87.4" r="1.15"/><circle cx="234.51" cy="87.51" r="1.15"/><circle cx="241.39" cy="88.31" r="1.15"/><circle cx="238.98" cy="87.23" r="1.15"/><circle cx="240.19" cy="94.94" r="1.15"/><circle cx="234.89" cy="89.98" r="1.15"/><circle cx="233.07" cy="88.85" r="1.15"/><circle cx="237.32" cy="93.58" r="1.15"/><circle cx="234.08" cy="86.43" r="1.15"/><circle cx="234.26" cy="94.39" r="1.15"/><circle cx="238.2" cy="89.39" r="1.15"/><circle cx="235.48" cy="90.19" r="1.15"/><circle cx="240.33" cy="92.79" r="1.15"/><circle cx="237.23" cy="90.42" r="1.15"/><circle cx="238.92" cy="93.15" r="1.15"/><circle cx="235.04" cy="94.09" r="1.15"/><circle cx="237.7" cy="95.61" r="1.15"/><circle cx="239.51" cy="87.48" r="1.15"/><circle cx="240.87" cy="92.24" r="1.15"/><circle cx="233.7" cy="91.41" r="1.15"/><circle cx="233.46" cy="88.17" r="1.15"/><circle cx="233.47" cy="93.76" r="1.15"/><circle cx="237.7" cy="97.1" r="1.15"/><circle cx="238.52" cy="86.95" r="1.15"/><circle cx="238.27" cy="91.38" r="1.15"/><circle cx="239.46" cy="94.28" r="1.15"/><circle cx="235.88" cy="88.28" r="1.15"/><circle cx="238.01" cy="94.36" r="1.15"/><circle cx="238.45" cy="95.73" r="1.15"/><circle cx="234.35" cy="92.43" r="1.15"/><circle cx="237.76" cy="94.09" r="1.15"/><circle cx="235" cy="86.19" r="1.15"/><circle cx="242.25" cy="89.78" r="1.15"/><circle cx="236.56" cy="90.34" r="1.15"/><circle cx="242.35" cy="91.93" r="1.15"/><circle cx="234.94" cy="89.64" r="1.15"/><circle cx="239.47" cy="95.64" r="1.15"/><circle cx="236.44" cy="92.42" r="1.15"/><circle cx="233.22" cy="95.8" r="1.15"/><circle cx="235.31" cy="91.9" r="1.15"/><circle cx="239.57" cy="95.25" r="1.15"/><circle cx="242.64" cy="91.18" r="1.15"/><circle cx="232.42" cy="92.12" r="1.15"/><circle cx="240.05" cy="93.98" r="1.15"/><circle cx="237.4" cy="93.63" r="1.15"/><circle cx="241.34" cy="88.76" r="1.15"/><circle cx="240.74" cy="91.05" r="1.15"/><circle cx="232.62" cy="94.99" r="1.15"/><circle cx="237.18" cy="91.9" r="1.15"/><circle cx="234.33" cy="90.13" r="1.15"/><circle cx="239.16" cy="87.5" r="1.15"/><circle cx="244.89" cy="97.78" r="1.15"/><circle cx="244.09" cy="97.23" r="1.15"/><circle cx="245.05" cy="95.89" r="1.15"/><circle cx="242.94" cy="97.22" r="1.15"/><circle cx="242.5" cy="96.07" r="1.15"/><circle cx="243.54" cy="97.02" r="1.15"/><circle cx="242.33" cy="94.15" r="1.15"/><circle cx="242.63" cy="95.82" r="1.15"/><circle cx="244.32" cy="97.3" r="1.15"/><circle cx="243.42" cy="94.22" r="1.15"/><circle cx="243.13" cy="94.07" r="1.15"/><circle cx="243.62" cy="98.3" r="1.15"/><circle cx="244.11" cy="97.15" r="1.15"/><circle cx="242.63" cy="97.39" r="1.15"/><circle cx="245.08" cy="95.12" r="1.15"/><circle cx="243.91" cy="96.65" r="1.15"/><circle cx="243.61" cy="95.79" r="1.15"/><circle cx="242.3" cy="97.7" r="1.15"/><circle cx="243.44" cy="93.67" r="1.15"/><circle cx="244.4" cy="96.16" r="1.15"/><circle cx="244.75" cy="97.23" r="1.15"/><circle cx="245.01" cy="96.82" r="1.15"/><circle cx="244.08" cy="95.5" r="1.15"/><circle cx="244.16" cy="98.27" r="1.15"/><circle cx="243.43" cy="96.02" r="1.15"/><circle cx="241.93" cy="94.21" r="1.15"/><circle cx="242.75" cy="94.04" r="1.15"/><circle cx="243.59" cy="96.5" r="1.15"/><circle cx="242.37" cy="96.76" r="1.15"/><circle cx="243.51" cy="95.67" r="1.15"/><circle cx="244.46" cy="95.3" r="1.15"/><circle cx="243.21" cy="94.96" r="1.15"/><circle cx="244.09" cy="98.29" r="1.15"/><circle cx="242.55" cy="96.21" r="1.15"/><circle cx="245.1" cy="95.47" r="1.15"/><circle cx="241.9" cy="96.25" r="1.15"/><circle cx="243.51" cy="98.11" r="1.15"/><circle cx="243.41" cy="95.88" r="1.15"/><circle cx="243.94" cy="97.97" r="1.15"/><circle cx="242.06" cy="94.92" r="1.15"/><circle cx="242.59" cy="93.91" r="1.15"/><circle cx="244.35" cy="93.97" r="1.15"/><circle cx="244.85" cy="95.4" r="1.15"/><circle cx="243.55" cy="93.94" r="1.15"/><circle cx="236" cy="100.3" r="1.15"/><circle cx="232.34" cy="102.12" r="1.15"/><circle cx="234.21" cy="102.87" r="1.15"/><circle cx="236.99" cy="102.59" r="1.15"/><circle cx="232.76" cy="98.73" r="1.15"/><circle cx="236.72" cy="98.56" r="1.15"/><circle cx="234.55" cy="102.72" r="1.15"/><circle cx="236.64" cy="101.51" r="1.15"/><circle cx="236.68" cy="100.41" r="1.15"/><circle cx="235.35" cy="98.26" r="1.15"/><circle cx="233.6" cy="101.09" r="1.15"/><circle cx="233.79" cy="103.37" r="1.15"/><circle cx="231.9" cy="100.7" r="1.15"/><circle cx="232.06" cy="100.83" r="1.15"/><circle cx="237.1" cy="100.48" r="1.15"/><circle cx="233.73" cy="98.96" r="1.15"/><circle cx="235.29" cy="103.06" r="1.15"/><circle cx="236.66" cy="101.44" r="1.15"/><circle cx="236.2" cy="101.22" r="1.15"/><circle cx="233.61" cy="98.84" r="1.15"/><circle cx="234.83" cy="99.94" r="1.15"/><circle cx="237.33" cy="101.69" r="1.15"/><circle cx="234.59" cy="104.35" r="1.15"/><circle cx="232.4" cy="99.95" r="1.15"/><circle cx="234.25" cy="99.98" r="1.15"/><circle cx="235.16" cy="101.44" r="1.15"/><circle cx="235.52" cy="102.08" r="1.15"/><circle cx="237.37" cy="100.87" r="1.15"/><circle cx="234.95" cy="100.22" r="1.15"/><circle cx="234.04" cy="103.21" r="1.15"/><circle cx="232.43" cy="102.04" r="1.15"/><circle cx="236.82" cy="100.5" r="1.15"/><circle cx="237.58" cy="101.77" r="1.15"/><circle cx="236.79" cy="99.08" r="1.15"/><circle cx="234.75" cy="101.56" r="1.15"/><circle cx="235.98" cy="100.6" r="1.15"/><circle cx="232.68" cy="100.18" r="1.15"/><circle cx="235.57" cy="102.14" r="1.15"/><circle cx="232.7" cy="102.95" r="1.15"/><circle cx="234.92" cy="101.92" r="1.15"/><circle cx="235.66" cy="100.31" r="1.15"/><circle cx="233.13" cy="102.98" r="1.15"/><circle cx="235.19" cy="99.92" r="1.15"/><circle cx="233.76" cy="101.17" r="1.15"/><circle cx="235.3" cy="99.84" r="1.15"/><circle cx="234.93" cy="100.04" r="1.15"/><circle cx="235.19" cy="103.03" r="1.15"/><circle cx="233.14" cy="99.52" r="1.15"/><circle cx="237.74" cy="102.14" r="1.15"/><circle cx="234.85" cy="101.8" r="1.15"/><circle cx="236.65" cy="102.73" r="1.15"/><circle cx="235.77" cy="101.86" r="1.15"/><circle cx="235.54" cy="102.54" r="1.15"/><circle cx="235.43" cy="101.8" r="1.15"/><circle cx="231.49" cy="101.86" r="1.15"/><circle cx="236.37" cy="101.96" r="1.15"/><circle cx="231.4" cy="100.07" r="1.15"/><circle cx="235.62" cy="100.42" r="1.15"/><circle cx="233.33" cy="101.1" r="1.15"/><circle cx="235.7" cy="100.41" r="1.15"/><circle cx="234.49" cy="104.1" r="1.15"/><circle cx="234.69" cy="100.51" r="1.15"/><circle cx="234.12" cy="102.59" r="1.15"/><circle cx="233.92" cy="102.21" r="1.15"/><circle cx="233.59" cy="101.42" r="1.15"/><circle cx="233.62" cy="99.83" r="1.15"/><circle cx="231.87" cy="101.78" r="1.15"/><circle cx="235.05" cy="103.46" r="1.15"/><circle cx="233.97" cy="100.29" r="1.15"/><circle cx="237.9" cy="100.34" r="1.15"/><circle cx="232.84" cy="103.16" r="1.15"/><circle cx="235.23" cy="103.88" r="1.15"/><circle cx="235.97" cy="101.88" r="1.15"/><circle cx="233.73" cy="101.67" r="1.15"/></g>
<g fill="#b2592a"><circle cx="216.01" cy="117.71" r="1.15"/><circle cx="211.99" cy="122.44" r="1.15"/><circle cx="218.22" cy="121.07" r="1.15"/><circle cx="209.94" cy="120.16" r="1.15"/><circle cx="219.65" cy="121.77" r="1.15"/><circle cx="217.31" cy="119.68" r="1.15"/><circle cx="212.35" cy="121.44" r="1.15"/><circle cx="213.64" cy="123.3" r="1.15"/><circle cx="215.17" cy="120.72" r="1.15"/><circle cx="217.4" cy="124.29" r="1.15"/><circle cx="213.44" cy="119.68" r="1.15"/><circle cx="211.7" cy="119.55" r="1.15"/><circle cx="215.39" cy="122.96" r="1.15"/><circle cx="216.59" cy="122.72" r="1.15"/><circle cx="211.7" cy="119.08" r="1.15"/><circle cx="215.48" cy="123.05" r="1.15"/><circle cx="211.38" cy="121.57" r="1.15"/><circle cx="212.81" cy="117.09" r="1.15"/><circle cx="214.28" cy="125.03" r="1.15"/><circle cx="219.89" cy="123.07" r="1.15"/><circle cx="218.34" cy="121.96" r="1.15"/><circle cx="220.76" cy="121.31" r="1.15"/><circle cx="209.84" cy="119.66" r="1.15"/><circle cx="213.76" cy="118.89" r="1.15"/><circle cx="215.17" cy="124.74" r="1.15"/><circle cx="218.14" cy="117.35" r="1.15"/><circle cx="215.96" cy="122.59" r="1.15"/><circle cx="213.25" cy="120.15" r="1.15"/><circle cx="215.12" cy="123.19" r="1.15"/><circle cx="211.53" cy="120.26" r="1.15"/><circle cx="215.74" cy="118.06" r="1.15"/><circle cx="213.87" cy="118.29" r="1.15"/><circle cx="210.38" cy="121.1" r="1.15"/><circle cx="214.04" cy="119.44" r="1.15"/><circle cx="216.39" cy="119.51" r="1.15"/><circle cx="218.04" cy="121.2" r="1.15"/><circle cx="220.48" cy="121.19" r="1.15"/><circle cx="215.55" cy="118.67" r="1.15"/><circle cx="215.9" cy="120.01" r="1.15"/><circle cx="215.79" cy="123.12" r="1.15"/><circle cx="217.57" cy="123.57" r="1.15"/><circle cx="219.72" cy="123.66" r="1.15"/><circle cx="212.42" cy="119.59" r="1.15"/><circle cx="213.18" cy="121.62" r="1.15"/><circle cx="219.64" cy="122.26" r="1.15"/><circle cx="210.8" cy="123.86" r="1.15"/><circle cx="218.42" cy="118.73" r="1.15"/><circle cx="214.6" cy="117.61" r="1.15"/><circle cx="216.11" cy="119.29" r="1.15"/><circle cx="218.16" cy="118.44" r="1.15"/><circle cx="218.63" cy="119.73" r="1.15"/><circle cx="219.98" cy="122.29" r="1.15"/><circle cx="215.19" cy="122.17" r="1.15"/><circle cx="216.99" cy="124.11" r="1.15"/><circle cx="215.56" cy="123.6" r="1.15"/><circle cx="216.2" cy="121.37" r="1.15"/><circle cx="220.33" cy="120.58" r="1.15"/><circle cx="213.13" cy="123.39" r="1.15"/><circle cx="212.11" cy="122.11" r="1.15"/><circle cx="216.85" cy="121.87" r="1.15"/><circle cx="219.31" cy="123.79" r="1.15"/><circle cx="214.46" cy="125.14" r="1.15"/><circle cx="213.19" cy="123.16" r="1.15"/><circle cx="218.99" cy="120.68" r="1.15"/><circle cx="217.72" cy="124.39" r="1.15"/><circle cx="215.19" cy="119.1" r="1.15"/><circle cx="216.27" cy="120.16" r="1.15"/><circle cx="216.9" cy="125.13" r="1.15"/><circle cx="216.37" cy="119.75" r="1.15"/><circle cx="213.87" cy="118.69" r="1.15"/><circle cx="216.47" cy="124.05" r="1.15"/><circle cx="213.97" cy="119.66" r="1.15"/><circle cx="211.25" cy="122.18" r="1.15"/><circle cx="219.79" cy="122.57" r="1.15"/><circle cx="213.74" cy="124.48" r="1.15"/><circle cx="212.13" cy="118.42" r="1.15"/><circle cx="213.45" cy="123.9" r="1.15"/><circle cx="216.88" cy="123.32" r="1.15"/><circle cx="218.66" cy="118.16" r="1.15"/><circle cx="216.64" cy="119.37" r="1.15"/><circle cx="215.39" cy="120.28" r="1.15"/><circle cx="216.52" cy="121.95" r="1.15"/><circle cx="218.61" cy="125.47" r="1.15"/><circle cx="213.26" cy="121.35" r="1.15"/><circle cx="211.54" cy="120.58" r="1.15"/><circle cx="215.02" cy="117.98" r="1.15"/><circle cx="216.56" cy="122.12" r="1.15"/><circle cx="212.41" cy="121.06" r="1.15"/><circle cx="215.73" cy="123.64" r="1.15"/><circle cx="214.87" cy="117.78" r="1.15"/><circle cx="209.25" cy="121.87" r="1.15"/><circle cx="214.28" cy="120.21" r="1.15"/><circle cx="214.02" cy="119.66" r="1.15"/><circle cx="220.36" cy="121.62" r="1.15"/><circle cx="211.25" cy="121.31" r="1.15"/><circle cx="220.22" cy="123.66" r="1.15"/><circle cx="213.92" cy="121.52" r="1.15"/><circle cx="219.22" cy="123.81" r="1.15"/><circle cx="213.98" cy="124.2" r="1.15"/><circle cx="216.48" cy="122.06" r="1.15"/><circle cx="211" cy="119.94" r="1.15"/><circle cx="217.31" cy="124.74" r="1.15"/><circle cx="214.36" cy="122.27" r="1.15"/><circle cx="217.33" cy="121.34" r="1.15"/><circle cx="215.8" cy="116.87" r="1.15"/><circle cx="209.63" cy="121.13" r="1.15"/><circle cx="214.04" cy="124.05" r="1.15"/><circle cx="215.51" cy="119.95" r="1.15"/><circle cx="217.58" cy="121.22" r="1.15"/><circle cx="213.86" cy="122.68" r="1.15"/><circle cx="210.41" cy="121.24" r="1.15"/><circle cx="217.53" cy="119.93" r="1.15"/><circle cx="215.72" cy="119.14" r="1.15"/><circle cx="210.07" cy="122.57" r="1.15"/><circle cx="214.96" cy="121.01" r="1.15"/><circle cx="210.97" cy="117.78" r="1.15"/><circle cx="212.2" cy="124.58" r="1.15"/><circle cx="214.81" cy="123.61" r="1.15"/><circle cx="213.37" cy="122.77" r="1.15"/><circle cx="215.7" cy="125.16" r="1.15"/><circle cx="212.09" cy="117.56" r="1.15"/><circle cx="215.06" cy="125.65" r="1.15"/><circle cx="220.88" cy="121.89" r="1.15"/><circle cx="216.98" cy="119.48" r="1.15"/><circle cx="211.76" cy="123.03" r="1.15"/><circle cx="211.99" cy="120.12" r="1.15"/><circle cx="211.63" cy="124.26" r="1.15"/><circle cx="217.47" cy="120.36" r="1.15"/><circle cx="215.85" cy="117.74" r="1.15"/><circle cx="220.56" cy="123.24" r="1.15"/><circle cx="211.85" cy="121.48" r="1.15"/><circle cx="216.99" cy="118.06" r="1.15"/><circle cx="213.93" cy="122.59" r="1.15"/><circle cx="214.93" cy="121.87" r="1.15"/><circle cx="215.55" cy="122.25" r="1.15"/><circle cx="215.63" cy="119.48" r="1.15"/><circle cx="210.26" cy="123.01" r="1.15"/><circle cx="213.07" cy="124.44" r="1.15"/><circle cx="209.57" cy="121.19" r="1.15"/><circle cx="212.86" cy="124.62" r="1.15"/><circle cx="219.05" cy="124.03" r="1.15"/><circle cx="211.66" cy="120.39" r="1.15"/><circle cx="218.92" cy="119.71" r="1.15"/><circle cx="212.57" cy="123.07" r="1.15"/><circle cx="214.96" cy="119.63" r="1.15"/><circle cx="219.64" cy="122.61" r="1.15"/><circle cx="215.18" cy="118.93" r="1.15"/><circle cx="209.91" cy="119.84" r="1.15"/><circle cx="213.42" cy="122.66" r="1.15"/><circle cx="216.78" cy="119.4" r="1.15"/><circle cx="219.17" cy="121.73" r="1.15"/><circle cx="214.77" cy="117.67" r="1.15"/><circle cx="214" cy="123.52" r="1.15"/><circle cx="216.73" cy="124.34" r="1.15"/><circle cx="214.5" cy="119.56" r="1.15"/><circle cx="220.26" cy="122.02" r="1.15"/><circle cx="217.23" cy="125.27" r="1.15"/><circle cx="216.36" cy="117.71" r="1.15"/><circle cx="217.58" cy="120.88" r="1.15"/><circle cx="209.3" cy="120.29" r="1.15"/><circle cx="220.18" cy="121.05" r="1.15"/><circle cx="213.46" cy="120.38" r="1.15"/><circle cx="217.18" cy="118.89" r="1.15"/><circle cx="215.01" cy="123.36" r="1.15"/><circle cx="212.12" cy="120.58" r="1.15"/><circle cx="219.1" cy="121.94" r="1.15"/><circle cx="215.75" cy="119.47" r="1.15"/><circle cx="213.04" cy="120.74" r="1.15"/><circle cx="217.87" cy="120.56" r="1.15"/><circle cx="215.09" cy="117.42" r="1.15"/><circle cx="221.97" cy="116.68" r="1.15"/><circle cx="222.85" cy="117.56" r="1.15"/><circle cx="221.75" cy="117.98" r="1.15"/><circle cx="222.79" cy="116.43" r="1.15"/><circle cx="220.19" cy="118.26" r="1.15"/><circle cx="221.34" cy="119.16" r="1.15"/><circle cx="222.59" cy="118.53" r="1.15"/><circle cx="221.46" cy="117.15" r="1.15"/><circle cx="222.42" cy="118.31" r="1.15"/><circle cx="221.7" cy="118.95" r="1.15"/><circle cx="220.52" cy="117.99" r="1.15"/><circle cx="220.06" cy="117.96" r="1.15"/><circle cx="222.81" cy="119.07" r="1.15"/><circle cx="222.63" cy="118.3" r="1.15"/><circle cx="223.68" cy="117.55" r="1.15"/><circle cx="220.98" cy="118.37" r="1.15"/><circle cx="221.5" cy="118.34" r="1.15"/><circle cx="222.11" cy="117.72" r="1.15"/><circle cx="222.1" cy="116.58" r="1.15"/><circle cx="223.57" cy="117.21" r="1.15"/><circle cx="221.75" cy="119.28" r="1.15"/><circle cx="222.11" cy="116.11" r="1.15"/><circle cx="220.72" cy="119.3" r="1.15"/><circle cx="220.76" cy="116.97" r="1.15"/><circle cx="223.88" cy="117.32" r="1.15"/><circle cx="222.67" cy="118.49" r="1.15"/><circle cx="222.41" cy="117.51" r="1.15"/><circle cx="220.74" cy="117.97" r="1.15"/><circle cx="223.41" cy="117.08" r="1.15"/><circle cx="223.98" cy="117.13" r="1.15"/><circle cx="221.55" cy="118.91" r="1.15"/><circle cx="222.56" cy="116.86" r="1.15"/><circle cx="221.08" cy="118.68" r="1.15"/><circle cx="221.17" cy="117.56" r="1.15"/><circle cx="222.73" cy="117.04" r="1.15"/><circle cx="223.17" cy="117.9" r="1.15"/><circle cx="222.58" cy="117.15" r="1.15"/><circle cx="221.2" cy="125.26" r="1.15"/><circle cx="220.22" cy="123.55" r="1.15"/><circle cx="219.44" cy="124.65" r="1.15"/><circle cx="221.21" cy="124.64" r="1.15"/><circle cx="220.49" cy="123.8" r="1.15"/><circle cx="221.64" cy="125.76" r="1.15"/><circle cx="219.57" cy="124.35" r="1.15"/><circle cx="220.88" cy="125.14" r="1.15"/><circle cx="220.26" cy="124.1" r="1.15"/><circle cx="220.81" cy="125.51" r="1.15"/><circle cx="219.91" cy="123.88" r="1.15"/><circle cx="221.35" cy="124.89" r="1.15"/><circle cx="220.48" cy="125.75" r="1.15"/><circle cx="221.51" cy="124.97" r="1.15"/><circle cx="220.71" cy="125.45" r="1.15"/><circle cx="220.47" cy="124.67" r="1.15"/><circle cx="220.4" cy="124.78" r="1.15"/><circle cx="220.76" cy="124.03" r="1.15"/></g>
<ellipse cx="229.3" cy="113.9" rx="1.7" ry="2.1" transform="rotate(30 229.3 113.9)" fill="#b2592a"/>
<text x="323.6" y="60" font-size="21.2" fill="#2e2e2e" textLength="181.4" lengthAdjust="spacingAndGlyphs" >Mapping single cells</text>
<text x="363" y="107.3" font-size="21.2" fill="#2e2e2e" textLength="93.78" lengthAdjust="spacingAndGlyphs" >Polyomino</text>
<rect x="308.8" y="74" width="216" height="8" fill="#525456"/>
<path d="M517.2,57.6 Q524,70 523.5,78 Q524,86 517.5,98 Q535,85 554,77.8 Q535,70 517.2,57.6Z" fill="#525456"/>
<g clip-path="url(#c1)">
<rect x="565.65" y="9.93" width="138.18" height="135.53" fill="#fff"/>
<g fill="#6e3a98"><circle cx="658" cy="20.8" r="1.9"/><circle cx="641.1" cy="25.3" r="1.9"/><circle cx="651.4" cy="30.3" r="1.9"/><circle cx="629.3" cy="32.3" r="1.9"/><circle cx="641.7" cy="34.6" r="1.9"/><circle cx="617.4" cy="35.2" r="1.9"/><circle cx="601" cy="43.5" r="1.9"/><circle cx="606.5" cy="42.9" r="1.9"/><circle cx="611.9" cy="47.1" r="1.9"/><circle cx="617.4" cy="45.1" r="1.9"/><circle cx="642.7" cy="43.1" r="1.9"/><circle cx="633.2" cy="47.5" r="1.9"/><circle cx="652.4" cy="47.1" r="1.9"/><circle cx="674.8" cy="49.5" r="1.9"/><circle cx="641.7" cy="56.8" r="1.9"/><circle cx="638.4" cy="60.4" r="1.9"/><circle cx="640.2" cy="69.3" r="1.9"/></g><g fill="#b8602b"><circle cx="588.3" cy="55.4" r="1.9"/><circle cx="601.2" cy="58.8" r="1.9"/><circle cx="617.4" cy="58.4" r="1.9"/><circle cx="578.8" cy="70.3" r="1.9"/><circle cx="588.3" cy="70.3" r="1.9"/><circle cx="581.8" cy="80.7" r="1.9"/><circle cx="602.7" cy="71.2" r="1.9"/><circle cx="606.7" cy="76.2" r="1.9"/><circle cx="603.1" cy="81.5" r="1.9"/><circle cx="629.7" cy="73.2" r="1.9"/><circle cx="636.2" cy="80.5" r="1.9"/><circle cx="627.3" cy="83.7" r="1.9"/></g><g fill="#3b9b3b"><circle cx="684.3" cy="51.1" r="1.9"/><circle cx="680.7" cy="58.8" r="1.9"/><circle cx="661.9" cy="57.4" r="1.9"/><circle cx="659.9" cy="72.6" r="1.9"/><circle cx="668.3" cy="76.2" r="1.9"/><circle cx="652.4" cy="79.6" r="1.9"/><circle cx="667.5" cy="84.1" r="1.9"/><circle cx="641.7" cy="84.5" r="1.9"/><circle cx="651.6" cy="97.6" r="1.9"/><circle cx="654" cy="110.8" r="1.9"/><circle cx="664.9" cy="110.4" r="1.9"/><circle cx="661.9" cy="119.3" r="1.9"/><circle cx="669.2" cy="121.1" r="1.9"/><circle cx="668.5" cy="130.6" r="1.9"/><circle cx="676.8" cy="135.6" r="1.9"/></g><g fill="#2167a6"><circle cx="586.1" cy="99.3" r="1.9"/><circle cx="606.5" cy="102.3" r="1.9"/><circle cx="617.4" cy="109.8" r="1.9"/><circle cx="631.8" cy="94" r="1.9"/><circle cx="639.2" cy="101.3" r="1.9"/><circle cx="636.2" cy="107.9" r="1.9"/><circle cx="591.7" cy="120.1" r="1.9"/><circle cx="606.9" cy="120.1" r="1.9"/><circle cx="603.3" cy="124.1" r="1.9"/><circle cx="615.4" cy="119.1" r="1.9"/></g>
<line x1="597.31" y1="9.93" x2="597.31" y2="145.47" stroke="#231815" stroke-width="2.3"/>
<line x1="565.65" y1="39.04" x2="703.82" y2="39.04" stroke="#231815" stroke-width="2.3"/>
<line x1="622.81" y1="9.93" x2="622.81" y2="145.47" stroke="#231815" stroke-width="2.3"/>
<line x1="565.65" y1="64.14" x2="703.82" y2="64.14" stroke="#231815" stroke-width="2.3"/>
<line x1="648.19" y1="9.93" x2="648.19" y2="145.47" stroke="#231815" stroke-width="2.3"/>
<line x1="565.65" y1="88.75" x2="703.82" y2="88.75" stroke="#231815" stroke-width="2.3"/>
<line x1="673.44" y1="9.93" x2="673.44" y2="145.47" stroke="#231815" stroke-width="2.3"/>
<line x1="565.65" y1="113.35" x2="703.82" y2="113.35" stroke="#231815" stroke-width="2.3"/>
</g>
<path d="M570.8,76C571.23,72.2 572.83,69.92 574.5,67C576.17,64.08 577.98,61.85 580.8,58.5C583.62,55.15 588.4,49.88 591.4,46.9C594.4,43.92 595.98,42.53 598.8,40.6C601.62,38.67 604.35,37.5 608.3,35.3C612.25,33.1 618.13,29.58 622.5,27.4C626.87,25.22 630.43,23.82 634.5,22.2C638.57,20.58 642.55,18.9 646.9,17.7C651.25,16.5 657.43,15.27 660.6,15C663.77,14.73 664.67,15.3 665.9,16.1C667.13,16.9 668,18.13 668,19.8C668,21.47 666.95,23.82 665.9,26.1C664.85,28.38 662.93,31.22 661.7,33.5C660.47,35.78 658.68,38.05 658.5,39.8C658.32,41.55 659.37,43.03 660.6,44C661.83,44.97 663.62,45.33 665.9,45.6C668.18,45.87 670.43,45.68 674.3,45.6C678.17,45.52 685.23,44.92 689.1,45.1C692.97,45.28 695.92,46 697.5,46.7C699.08,47.4 698.95,48.42 698.6,49.3C698.25,50.18 696.98,50.93 695.4,52C693.82,53.07 691.03,54.38 689.1,55.7C687.17,57.02 685.08,58.43 683.8,59.9C682.52,61.37 682.1,62.75 681.4,64.5C680.7,66.25 680.33,68 679.6,70.4C678.87,72.8 677.87,75.9 677,78.9C676.13,81.9 675.33,85.72 674.4,88.4C673.47,91.08 672.03,92.62 671.4,95C670.77,97.38 670.45,100.33 670.6,102.7C670.75,105.07 671.63,107.23 672.3,109.2C672.97,111.17 673.72,112.03 674.6,114.5C675.48,116.97 676.65,120.73 677.6,124C678.55,127.27 680.02,131.53 680.3,134.1C680.58,136.67 680.13,138.4 679.3,139.4C678.47,140.4 677.12,140.83 675.3,140.1C673.48,139.37 671.7,137.7 668.4,135C665.1,132.3 659.2,127.13 655.5,123.9C651.8,120.67 648.67,117.57 646.2,115.6C643.73,113.63 642.38,112.65 640.7,112.1C639.02,111.55 638.05,111.68 636.1,112.3C634.15,112.92 631.62,114.45 629,115.8C626.38,117.15 624.15,118.47 620.4,120.4C616.65,122.33 610.13,125.67 606.5,127.4C602.87,129.13 600.57,130.32 598.6,130.8C596.63,131.28 596.18,131.2 594.7,130.3C593.22,129.4 591.68,128.03 589.7,125.4C587.72,122.77 584.93,118.3 582.8,114.5C580.67,110.7 578.72,106.72 576.9,102.6C575.08,98.48 572.92,94.23 571.9,89.8C570.88,85.37 570.37,79.8 570.8,76Z" fill="none" stroke="#231815" stroke-width="3.2" stroke-linejoin="round"/>
<text x="725" y="70.9" font-size="21.2" fill="#2e2e2e" textLength="61.02" lengthAdjust="spacingAndGlyphs" >Spatial</text>
<text x="694.9" y="95.3" font-size="21.2" fill="#2e2e2e" textLength="121.12" lengthAdjust="spacingAndGlyphs" >transcriptome</text>
<polygon points="113.3,171.8 341,134.8 502,134.8 733.6,171.8" fill="url(#wg)"/>
<text x="11.2" y="197.2" font-size="21.2" fill="#2e2e2e" textLength="196.82" lengthAdjust="spacingAndGlyphs" >Spatial regionalization</text>
<text x="308" y="197.2" font-size="21.2" fill="#2e2e2e" textLength="188.18" lengthAdjust="spacingAndGlyphs" >Mapping cells to bins</text>
<text x="600.5" y="197.2" font-size="21.2" fill="#2e2e2e" textLength="208.48" lengthAdjust="spacingAndGlyphs" >Mapping cells to voxels</text>
<line x1="223.6" y1="188.6" x2="256.4" y2="188.6" stroke="#6d91ae" stroke-width="4.2" stroke-linecap="round"/>
<path d="M258.4,178.2 L272.6,188.6 L258.4,199.0 Z" fill="none" stroke="#6d91ae" stroke-width="3.7" stroke-linejoin="round"/>
<line x1="526.2" y1="188.6" x2="558.9" y2="188.6" stroke="#6d91ae" stroke-width="4.2" stroke-linecap="round"/>
<path d="M560.9,178.2 L575.2,188.6 L560.9,199.0 Z" fill="none" stroke="#6d91ae" stroke-width="3.7" stroke-linejoin="round"/>
<rect x="20.4" y="210.9" width="169.8" height="265.2" rx="23" ry="16.5" fill="none" stroke="#7193ad" stroke-width="2.7"/>
<rect x="201" y="212" width="381.6" height="265.3" rx="32" ry="24" fill="none" stroke="#7193ad" stroke-width="2.7"/>
<rect x="593.5" y="212.9" width="209.5" height="263.3" rx="42" ry="42" fill="none" stroke="#6a8da7" stroke-width="3.8"/>
<text x="57.8" y="228.2" font-size="13.3" fill="#2e2e2e" textLength="99.24" lengthAdjust="spacingAndGlyphs" >Horizontal stripes</text>
<g clip-path="url(#c2)">
<rect x="57.2" y="231.6" width="100.7" height="70.1" fill="#fff"/>
<rect x="16.85" y="206.55" width="100.25" height="120.5" fill="#9c84b6"/>
<rect x="79.8" y="206.55" width="37.31" height="54.93" fill="#c6dfb0"/>
<rect x="98.3" y="261.18" width="18.8" height="12.38" fill="#c6dfb0"/>
<rect x="116.8" y="206.55" width="81.75" height="54.93" fill="#f8e0d4"/>
<rect x="116.8" y="261.18" width="81.75" height="65.87" fill="#c3d9e5"/>
</g>
<path d="M62.31,265.84C62.62,264.02 63.75,262.92 64.93,261.53C66.11,260.13 67.39,259.06 69.39,257.46C71.38,255.85 74.76,253.33 76.89,251.9C79.01,250.48 80.13,249.81 82.12,248.89C84.12,247.96 86.05,247.4 88.84,246.35C91.64,245.3 95.8,243.61 98.89,242.57C101.98,241.52 104.51,240.85 107.38,240.08C110.26,239.3 113.08,238.5 116.16,237.92C119.24,237.35 123.61,236.76 125.85,236.63C128.09,236.5 128.73,236.78 129.6,237.16C130.48,237.54 131.09,238.13 131.09,238.93C131.09,239.73 130.35,240.85 129.6,241.95C128.86,243.04 127.5,244.4 126.63,245.49C125.76,246.58 124.5,247.67 124.37,248.51C124.24,249.34 124.98,250.05 125.85,250.52C126.73,250.98 127.99,251.15 129.6,251.28C131.22,251.41 132.81,251.32 135.55,251.28C138.28,251.24 143.28,250.95 146.02,251.04C148.76,251.13 150.84,251.47 151.96,251.81C153.08,252.14 152.99,252.63 152.74,253.05C152.5,253.48 151.6,253.84 150.48,254.35C149.36,254.86 147.39,255.49 146.02,256.12C144.65,256.75 143.18,257.43 142.27,258.13C141.36,258.83 141.07,259.49 140.57,260.33C140.08,261.17 139.82,262.01 139.3,263.16C138.78,264.3 138.07,265.79 137.46,267.22C136.84,268.66 136.28,270.49 135.62,271.77C134.96,273.06 133.94,273.79 133.5,274.93C133.05,276.07 132.82,277.49 132.93,278.62C133.04,279.75 133.66,280.79 134.13,281.73C134.6,282.67 135.13,283.09 135.76,284.27C136.38,285.45 137.21,287.25 137.88,288.82C138.55,290.38 139.59,292.42 139.79,293.65C139.99,294.88 139.68,295.71 139.09,296.19C138.5,296.67 137.54,296.88 136.26,296.52C134.97,296.17 133.71,295.38 131.37,294.08C129.04,292.79 124.86,290.32 122.24,288.77C119.63,287.22 117.41,285.74 115.66,284.79C113.92,283.85 112.96,283.38 111.77,283.12C110.58,282.86 109.9,282.92 108.52,283.22C107.14,283.51 105.34,284.24 103.49,284.89C101.64,285.54 100.06,286.17 97.41,287.09C94.75,288.02 90.14,289.61 87.57,290.44C85,291.27 83.37,291.84 81.98,292.07C80.59,292.3 80.27,292.26 79.22,291.83C78.17,291.4 77.09,290.75 75.68,289.49C74.28,288.23 72.31,286.09 70.8,284.27C69.29,282.45 67.91,280.54 66.63,278.57C65.34,276.6 63.81,274.57 63.09,272.44C62.37,270.32 62,267.66 62.31,265.84Z" fill="none" stroke="#231815" stroke-width="3" stroke-linejoin="round"/>
<text x="63.3" y="313.2" font-size="13.3" fill="#2e2e2e" textLength="84.48" lengthAdjust="spacingAndGlyphs" >Vertical stripes</text>
<g clip-path="url(#c3)">
<rect x="57.2" y="315.6" width="100.7" height="70.7" fill="#fff"/>
<rect x="16.85" y="290.25" width="63.25" height="121.7" fill="#c6dfb0"/>
<rect x="79.8" y="290.25" width="19.53" height="121.7" fill="#c89a7e"/>
<rect x="99.02" y="290.25" width="18.08" height="121.7" fill="#db7e77"/>
<rect x="116.8" y="290.25" width="18.53" height="121.7" fill="#c3d9e5"/>
<rect x="135.03" y="290.25" width="63.52" height="121.7" fill="#fbeee9"/>
</g>
<path d="M62.31,350.13C62.62,348.29 63.75,347.19 64.93,345.78C66.11,344.37 67.39,343.29 69.39,341.67C71.38,340.05 74.76,337.5 76.89,336.06C79.01,334.61 80.13,333.95 82.12,333.01C84.12,332.08 86.05,331.51 88.84,330.45C91.64,329.38 95.8,327.68 98.89,326.63C101.98,325.57 104.51,324.9 107.38,324.11C110.26,323.33 113.08,322.52 116.16,321.94C119.24,321.36 123.61,320.76 125.85,320.63C128.09,320.5 128.73,320.78 129.6,321.16C130.48,321.55 131.09,322.15 131.09,322.95C131.09,323.76 130.35,324.9 129.6,326C128.86,327.1 127.5,328.47 126.63,329.58C125.76,330.68 124.5,331.78 124.37,332.62C124.24,333.47 124.98,334.19 125.85,334.65C126.73,335.12 127.99,335.3 129.6,335.43C131.22,335.56 132.81,335.47 135.55,335.43C138.28,335.39 143.28,335.1 146.02,335.19C148.76,335.28 150.84,335.62 151.96,335.96C153.08,336.3 152.99,336.79 152.74,337.22C152.5,337.64 151.6,338.01 150.48,338.52C149.36,339.04 147.39,339.68 146.02,340.31C144.65,340.95 143.18,341.63 142.27,342.34C141.36,343.05 141.07,343.72 140.57,344.57C140.08,345.41 139.82,346.26 139.3,347.42C138.78,348.58 138.07,350.08 137.46,351.53C136.84,352.98 136.28,354.83 135.62,356.12C134.96,357.42 133.94,358.16 133.5,359.32C133.05,360.47 132.82,361.89 132.93,363.04C133.04,364.18 133.66,365.23 134.13,366.18C134.6,367.13 135.13,367.55 135.76,368.74C136.38,369.94 137.21,371.76 137.88,373.34C138.55,374.92 139.59,376.98 139.79,378.22C139.99,379.46 139.68,380.3 139.09,380.78C138.5,381.27 137.54,381.48 136.26,381.12C134.97,380.77 133.71,379.96 131.37,378.66C129.04,377.35 124.86,374.85 122.24,373.29C119.63,371.73 117.41,370.23 115.66,369.28C113.92,368.33 112.96,367.85 111.77,367.58C110.58,367.32 109.9,367.38 108.52,367.68C107.14,367.98 105.34,368.72 103.49,369.37C101.64,370.03 100.06,370.66 97.41,371.6C94.75,372.53 90.14,374.14 87.57,374.98C85,375.82 83.37,376.39 81.98,376.63C80.59,376.86 80.27,376.82 79.22,376.38C78.17,375.95 77.09,375.29 75.68,374.01C74.28,372.74 72.31,370.58 70.8,368.74C69.29,366.91 67.91,364.98 66.63,362.99C65.34,361 63.81,358.94 63.09,356.8C62.37,354.66 62,351.97 62.31,350.13Z" fill="none" stroke="#231815" stroke-width="3" stroke-linejoin="round"/>
<text x="57.8" y="398.6" font-size="13.3" fill="#2e2e2e" textLength="97.88" lengthAdjust="spacingAndGlyphs" >Spatial clustering</text>
<g clip-path="url(#c4)">
<rect x="57.2" y="400" width="100.7" height="70.7" fill="#fff"/>
<rect x="16.85" y="374.65" width="181.7" height="42.55" fill="#ebe687"/>
<rect x="16.85" y="416.9" width="181.7" height="12.38" fill="#eeb57a"/>
<rect x="16.85" y="428.98" width="181.7" height="13.05" fill="#c6dfb0"/>
<rect x="16.85" y="441.72" width="181.7" height="12.99" fill="#c3d9e5"/>
<rect x="16.85" y="454.41" width="181.7" height="41.94" fill="#fbeee9"/>
</g>
<path d="M62.31,434.53C62.62,432.69 63.75,431.59 64.93,430.18C66.11,428.77 67.39,427.69 69.39,426.07C71.38,424.45 74.76,421.9 76.89,420.46C79.01,419.01 80.13,418.35 82.12,417.41C84.12,416.48 86.05,415.91 88.84,414.85C91.64,413.78 95.8,412.08 98.89,411.03C101.98,409.97 104.51,409.3 107.38,408.51C110.26,407.73 113.08,406.92 116.16,406.34C119.24,405.76 123.61,405.16 125.85,405.03C128.09,404.9 128.73,405.18 129.6,405.56C130.48,405.95 131.09,406.55 131.09,407.35C131.09,408.16 130.35,409.3 129.6,410.4C128.86,411.5 127.5,412.87 126.63,413.98C125.76,415.08 124.5,416.18 124.37,417.02C124.24,417.87 124.98,418.59 125.85,419.05C126.73,419.52 127.99,419.7 129.6,419.83C131.22,419.96 132.81,419.87 135.55,419.83C138.28,419.79 143.28,419.5 146.02,419.59C148.76,419.68 150.84,420.02 151.96,420.36C153.08,420.7 152.99,421.19 152.74,421.62C152.5,422.04 151.6,422.41 150.48,422.92C149.36,423.44 147.39,424.08 146.02,424.71C144.65,425.35 143.18,426.03 142.27,426.74C141.36,427.45 141.07,428.12 140.57,428.97C140.08,429.81 139.82,430.66 139.3,431.82C138.78,432.98 138.07,434.48 137.46,435.93C136.84,437.38 136.28,439.23 135.62,440.52C134.96,441.82 133.94,442.56 133.5,443.72C133.05,444.87 132.82,446.29 132.93,447.44C133.04,448.58 133.66,449.63 134.13,450.58C134.6,451.53 135.13,451.95 135.76,453.14C136.38,454.34 137.21,456.16 137.88,457.74C138.55,459.32 139.59,461.38 139.79,462.62C139.99,463.86 139.68,464.7 139.09,465.18C138.5,465.67 137.54,465.88 136.26,465.52C134.97,465.17 133.71,464.36 131.37,463.06C129.04,461.75 124.86,459.25 122.24,457.69C119.63,456.13 117.41,454.63 115.66,453.68C113.92,452.73 112.96,452.25 111.77,451.98C110.58,451.72 109.9,451.78 108.52,452.08C107.14,452.38 105.34,453.12 103.49,453.77C101.64,454.43 100.06,455.06 97.41,456C94.75,456.93 90.14,458.54 87.57,459.38C85,460.22 83.37,460.79 81.98,461.03C80.59,461.26 80.27,461.22 79.22,460.78C78.17,460.35 77.09,459.69 75.68,458.41C74.28,457.14 72.31,454.98 70.8,453.14C69.29,451.31 67.91,449.38 66.63,447.39C65.34,445.4 63.81,443.34 63.09,441.2C62.37,439.06 62,436.37 62.31,434.53Z" fill="none" stroke="#231815" stroke-width="3" stroke-linejoin="round"/>
<text x="221.9" y="232" font-size="15.8" fill="#2e2e2e" textLength="78.77" lengthAdjust="spacingAndGlyphs" >Multi-layers</text>
<g clip-path="url(#c5)">
<rect x="215.9" y="234.7" width="90.7" height="70.1" fill="#fff"/>
<rect x="180.55" y="209.65" width="88.83" height="120.5" fill="#f2c0ab"/>
<rect x="236.72" y="209.65" width="32.66" height="54.03" fill="#e05c42"/>
<rect x="253.1" y="263.38" width="16.28" height="12.44" fill="#e05c42"/>
<rect x="269.08" y="209.65" width="73.17" height="54.03" fill="#f5d0bf"/>
<rect x="269.08" y="263.38" width="73.17" height="66.77" fill="#eb9b81"/>
</g>
<path d="M221,268.94C221.27,267.12 222.28,266.02 223.33,264.63C224.38,263.23 225.52,262.16 227.29,260.56C229.07,258.95 232.08,256.43 233.97,255C235.86,253.58 236.85,252.91 238.63,251.99C240.4,251.06 242.12,250.5 244.61,249.45C247.09,248.4 250.8,246.71 253.55,245.67C256.3,244.62 258.54,243.95 261.1,243.18C263.66,242.4 266.17,241.6 268.91,241.02C271.65,240.45 275.54,239.86 277.54,239.73C279.53,239.6 280.1,239.88 280.87,240.26C281.65,240.64 282.19,241.23 282.19,242.03C282.19,242.83 281.53,243.95 280.87,245.05C280.21,246.14 279,247.5 278.23,248.59C277.45,249.68 276.33,250.77 276.21,251.61C276.1,252.44 276.76,253.15 277.54,253.62C278.31,254.08 279.43,254.25 280.87,254.38C282.31,254.51 283.73,254.42 286.16,254.38C288.6,254.34 293.04,254.05 295.48,254.14C297.91,254.23 299.77,254.57 300.77,254.91C301.76,255.24 301.68,255.73 301.46,256.15C301.24,256.58 300.44,256.94 299.45,257.45C298.45,257.96 296.7,258.59 295.48,259.22C294.26,259.85 292.95,260.53 292.14,261.23C291.33,261.93 291.07,262.59 290.63,263.43C290.19,264.27 289.96,265.11 289.5,266.26C289.04,267.4 288.41,268.89 287.86,270.32C287.32,271.76 286.81,273.59 286.22,274.87C285.64,276.16 284.73,276.89 284.33,278.03C283.94,279.17 283.74,280.59 283.83,281.72C283.93,282.85 284.48,283.89 284.9,284.83C285.32,285.77 285.79,286.19 286.35,287.37C286.91,288.55 287.64,290.35 288.24,291.92C288.84,293.48 289.76,295.52 289.94,296.75C290.12,297.98 289.83,298.81 289.31,299.29C288.78,299.77 287.93,299.98 286.79,299.62C285.65,299.27 284.52,298.48 282.45,297.18C280.37,295.89 276.65,293.42 274.32,291.87C271.99,290.32 270.02,288.84 268.47,287.89C266.92,286.95 266.07,286.48 265.01,286.22C263.95,285.96 263.34,286.02 262.11,286.32C260.88,286.61 259.29,287.34 257.64,287.99C255.99,288.64 254.59,289.27 252.23,290.19C249.86,291.12 245.76,292.71 243.47,293.54C241.19,294.37 239.74,294.94 238.5,295.17C237.26,295.4 236.98,295.36 236.04,294.93C235.11,294.5 234.15,293.85 232.9,292.59C231.65,291.33 229.9,289.19 228.55,287.37C227.21,285.55 225.98,283.64 224.84,281.67C223.69,279.7 222.33,277.67 221.69,275.54C221.05,273.42 220.72,270.76 221,268.94Z" fill="none" stroke="#231815" stroke-width="3.6" stroke-linejoin="round"/>
<g clip-path="url(#c6)">
<rect x="218.9" y="310.9" width="90.8" height="70.7" fill="#fff"/>
<rect x="183.5" y="285.55" width="56.86" height="121.7" fill="#fbe8e0"/>
<rect x="240.06" y="285.55" width="16.38" height="121.7" fill="#f2b29f"/>
<rect x="256.14" y="285.55" width="16.7" height="121.7" fill="#e47a60"/>
<rect x="272.54" y="285.55" width="16.7" height="121.7" fill="#f0ae98"/>
<rect x="288.94" y="285.55" width="56.46" height="121.7" fill="#ffffff"/>
</g>
<path d="M224,345.43C224.27,343.59 225.28,342.49 226.33,341.08C227.38,339.67 228.53,338.59 230.3,336.97C232.08,335.35 235.09,332.8 236.98,331.36C238.87,329.91 239.87,329.25 241.65,328.31C243.42,327.38 245.15,326.81 247.64,325.75C250.13,324.68 253.84,322.98 256.59,321.93C259.34,320.87 261.59,320.2 264.15,319.41C266.72,318.63 269.23,317.82 271.97,317.24C274.71,316.66 278.61,316.06 280.61,315.93C282.6,315.8 283.17,316.08 283.95,316.46C284.72,316.85 285.27,317.45 285.27,318.25C285.27,319.06 284.61,320.2 283.95,321.3C283.28,322.4 282.08,323.77 281.3,324.88C280.52,325.98 279.4,327.08 279.28,327.92C279.17,328.77 279.83,329.49 280.61,329.95C281.38,330.42 282.51,330.6 283.95,330.73C285.39,330.86 286.8,330.77 289.24,330.73C291.68,330.69 296.13,330.4 298.57,330.49C301.01,330.58 302.87,330.92 303.87,331.26C304.86,331.6 304.78,332.09 304.56,332.52C304.34,332.94 303.54,333.31 302.54,333.82C301.54,334.34 299.79,334.98 298.57,335.61C297.35,336.25 296.04,336.93 295.23,337.64C294.42,338.35 294.16,339.02 293.72,339.87C293.28,340.71 293.04,341.56 292.58,342.72C292.12,343.88 291.49,345.38 290.94,346.83C290.4,348.28 289.89,350.13 289.3,351.42C288.72,352.72 287.81,353.46 287.41,354.62C287.01,355.77 286.81,357.19 286.91,358.34C287,359.48 287.56,360.53 287.98,361.48C288.4,362.43 288.87,362.85 289.43,364.04C289.99,365.24 290.72,367.06 291.32,368.64C291.92,370.22 292.85,372.28 293.02,373.52C293.2,374.76 292.92,375.6 292.39,376.08C291.87,376.57 291.02,376.78 289.87,376.42C288.73,376.07 287.6,375.26 285.52,373.96C283.44,372.65 279.72,370.15 277.39,368.59C275.06,367.03 273.08,365.53 271.53,364.58C269.97,363.63 269.12,363.15 268.06,362.88C267,362.62 266.39,362.68 265.16,362.98C263.93,363.28 262.33,364.02 260.69,364.67C259.04,365.33 257.63,365.96 255.26,366.9C252.9,367.83 248.79,369.44 246.5,370.28C244.21,371.12 242.76,371.69 241.52,371.93C240.28,372.16 240,372.12 239.06,371.68C238.13,371.25 237.16,370.59 235.91,369.31C234.66,368.04 232.91,365.88 231.56,364.04C230.22,362.21 228.99,360.28 227.84,358.29C226.7,356.3 225.33,354.24 224.69,352.1C224.05,349.96 223.72,347.27 224,345.43Z" fill="none" stroke="#231815" stroke-width="3.6" stroke-linejoin="round"/>
<g clip-path="url(#c7)">
<rect x="218.9" y="386.7" width="90.8" height="71.3" fill="#fff"/>
<rect x="183.5" y="361.05" width="161.9" height="43.03" fill="#fcf0ec"/>
<rect x="183.5" y="403.78" width="161.9" height="12.5" fill="#f6d8cc"/>
<rect x="183.5" y="415.97" width="161.9" height="12.44" fill="#e47a60"/>
<rect x="183.5" y="428.11" width="161.9" height="12.99" fill="#f6d8cc"/>
<rect x="183.5" y="440.8" width="161.9" height="43.15" fill="#fcf0ec"/>
</g>
<path d="M224,421.52C224.27,419.66 225.28,418.55 226.33,417.13C227.38,415.7 228.53,414.61 230.3,412.97C232.08,411.34 235.09,408.77 236.98,407.31C238.87,405.85 239.87,405.18 241.65,404.23C243.42,403.29 245.15,402.72 247.64,401.65C250.13,400.57 253.84,398.85 256.59,397.79C259.34,396.72 261.59,396.04 264.15,395.25C266.72,394.46 269.23,393.64 271.97,393.05C274.71,392.47 278.61,391.86 280.61,391.73C282.6,391.6 283.17,391.88 283.95,392.27C284.72,392.66 285.27,393.26 285.27,394.08C285.27,394.89 284.61,396.04 283.95,397.15C283.28,398.27 282.08,399.65 281.3,400.77C280.52,401.88 279.4,402.99 279.28,403.84C279.17,404.7 279.83,405.42 280.61,405.89C281.38,406.37 282.51,406.54 283.95,406.68C285.39,406.81 286.8,406.72 289.24,406.68C291.68,406.63 296.13,406.34 298.57,406.43C301.01,406.52 302.87,406.87 303.87,407.21C304.86,407.55 304.78,408.05 304.56,408.48C304.34,408.91 303.54,409.28 302.54,409.8C301.54,410.32 299.79,410.96 298.57,411.61C297.35,412.25 296.04,412.94 295.23,413.66C294.42,414.37 294.16,415.05 293.72,415.9C293.28,416.76 293.04,417.61 292.58,418.79C292.12,419.96 291.49,421.47 290.94,422.94C290.4,424.4 289.89,426.26 289.3,427.57C288.72,428.89 287.81,429.63 287.41,430.8C287.01,431.96 286.81,433.4 286.91,434.56C287,435.71 287.56,436.77 287.98,437.73C288.4,438.69 288.87,439.12 289.43,440.32C289.99,441.52 290.72,443.36 291.32,444.96C291.92,446.55 292.85,448.64 293.02,449.89C293.2,451.14 292.92,451.99 292.39,452.48C291.87,452.97 291.02,453.18 289.87,452.82C288.73,452.46 287.6,451.65 285.52,450.33C283.44,449.01 279.72,446.49 277.39,444.91C275.06,443.33 273.08,441.82 271.53,440.86C269.97,439.9 269.12,439.42 268.06,439.15C267,438.88 266.39,438.94 265.16,439.25C263.93,439.55 262.33,440.3 260.69,440.95C259.04,441.61 257.63,442.26 255.26,443.2C252.9,444.15 248.79,445.77 246.5,446.62C244.21,447.47 242.76,448.04 241.52,448.28C240.28,448.52 240,448.47 239.06,448.04C238.13,447.6 237.16,446.93 235.91,445.64C234.66,444.36 232.91,442.18 231.56,440.32C230.22,438.46 228.99,436.52 227.84,434.51C226.7,432.5 225.33,430.42 224.69,428.26C224.05,426.09 223.72,423.38 224,421.52Z" fill="none" stroke="#231815" stroke-width="3.6" stroke-linejoin="round"/>
<text x="340" y="312.7" font-size="16.3" fill="#2e2e2e" textLength="60.8" lengthAdjust="spacingAndGlyphs" >Minimize</text>
<text x="329.3" y="330.7" font-size="16.3" fill="#2e2e2e" textLength="86.61" lengthAdjust="spacingAndGlyphs" >regional loss</text>
<path d="M337.4,343.4 H398.1 V336.7 L417.2,347.7 L398.1,359.2 V351.7 H337.4 Z" fill="#3c56a6"/>
<g clip-path="url(#c8)">
<rect x="438.7" y="250" width="132.8" height="132.2" fill="#fff"/>
<rect x="382.3" y="193.9" width="86.63" height="85.47" fill="#f5d0c2"/>
<rect x="468.63" y="193.9" width="24.61" height="85.47" fill="#f1b9a6"/>
<rect x="492.94" y="193.9" width="24.61" height="85.47" fill="#eb9e88"/>
<rect x="517.26" y="193.9" width="25.6" height="85.47" fill="#f8dbd0"/>
<rect x="542.55" y="193.9" width="85.65" height="85.47" fill="#f8dbd0"/>
<rect x="382.3" y="279.07" width="86.63" height="24.62" fill="#f5d2c4"/>
<rect x="468.63" y="279.07" width="24.61" height="24.62" fill="#efb09c"/>
<rect x="492.94" y="279.07" width="24.61" height="24.62" fill="#ea9580"/>
<rect x="517.26" y="279.07" width="25.6" height="24.62" fill="#f3c6b6"/>
<rect x="542.55" y="279.07" width="85.65" height="24.62" fill="#f8d9cd"/>
<rect x="382.3" y="303.39" width="86.63" height="25.6" fill="#eba08a"/>
<rect x="468.63" y="303.39" width="24.61" height="25.6" fill="#e9947e"/>
<rect x="492.94" y="303.39" width="24.61" height="25.6" fill="#b21f24"/>
<rect x="517.26" y="303.39" width="25.6" height="25.6" fill="#ea9780"/>
<rect x="542.55" y="303.39" width="85.65" height="25.6" fill="#ec9f89"/>
<rect x="382.3" y="328.69" width="86.63" height="24.62" fill="#f5d3c6"/>
<rect x="468.63" y="328.69" width="24.61" height="24.62" fill="#f2c5b5"/>
<rect x="492.94" y="328.69" width="24.61" height="24.62" fill="#eba38e"/>
<rect x="517.26" y="328.69" width="25.6" height="24.62" fill="#f0bba9"/>
<rect x="542.55" y="328.69" width="85.65" height="24.62" fill="#f3c6b6"/>
<rect x="382.3" y="353" width="86.63" height="85.6" fill="#f9e2d9"/>
<rect x="468.63" y="353" width="24.61" height="85.6" fill="#f6d6ca"/>
<rect x="492.94" y="353" width="24.61" height="85.6" fill="#f0baa8"/>
<rect x="517.26" y="353" width="25.6" height="85.6" fill="#f3c7b8"/>
<rect x="542.55" y="353" width="85.65" height="85.6" fill="#f4cbbc"/>
</g>
<path d="M443.85,314.45C444.26,310.75 445.8,308.52 447.39,305.68C448.99,302.84 450.73,300.67 453.43,297.41C456.13,294.15 460.71,289.02 463.58,286.12C466.46,283.21 467.97,281.87 470.67,279.99C473.37,278.1 475.99,276.97 479.77,274.83C483.56,272.68 489.2,269.26 493.38,267.14C497.56,265.01 500.98,263.65 504.88,262.07C508.77,260.5 512.59,258.86 516.76,257.69C520.92,256.53 526.85,255.32 529.88,255.06C532.91,254.81 533.78,255.36 534.96,256.14C536.14,256.91 536.97,258.12 536.97,259.74C536.97,261.36 535.96,263.65 534.96,265.87C533.95,268.09 532.12,270.85 530.93,273.07C529.75,275.3 528.04,277.5 527.87,279.21C527.69,280.91 528.7,282.35 529.88,283.29C531.06,284.24 532.77,284.59 534.96,284.85C537.15,285.11 539.3,284.93 543.01,284.85C546.71,284.77 553.48,284.19 557.19,284.37C560.89,284.54 563.72,285.24 565.23,285.92C566.75,286.6 566.62,287.59 566.29,288.45C565.95,289.31 564.74,290.04 563.22,291.08C561.7,292.12 559.04,293.4 557.19,294.68C555.33,295.97 553.34,297.34 552.11,298.77C550.88,300.2 550.48,301.55 549.81,303.25C549.14,304.95 548.79,306.66 548.08,308.99C547.38,311.33 546.42,314.35 545.59,317.27C544.76,320.19 544,323.9 543.1,326.52C542.21,329.13 540.83,330.62 540.23,332.94C539.62,335.26 539.32,338.13 539.46,340.44C539.61,342.74 540.45,344.85 541.09,346.76C541.73,348.68 542.45,349.52 543.29,351.92C544.14,354.32 545.26,357.99 546.17,361.17C547.08,364.35 548.48,368.5 548.75,371C549.03,373.5 548.59,375.19 547.8,376.16C547,377.14 545.7,377.56 543.96,376.84C542.22,376.13 540.52,374.51 537.35,371.88C534.19,369.25 528.54,364.22 524.99,361.07C521.45,357.93 518.45,354.91 516.08,352.99C513.72,351.08 512.43,350.12 510.82,349.59C509.2,349.05 508.28,349.18 506.41,349.78C504.54,350.38 502.11,351.87 499.61,353.19C497.1,354.5 494.96,355.78 491.37,357.67C487.77,359.55 481.53,362.79 478.05,364.48C474.57,366.17 472.37,367.32 470.48,367.79C468.6,368.26 468.17,368.18 466.75,367.3C465.32,366.43 463.85,365.1 461.95,362.53C460.05,359.97 457.39,355.62 455.34,351.92C453.3,348.22 451.43,344.35 449.69,340.34C447.95,336.33 445.88,332.19 444.9,327.88C443.93,323.56 443.43,318.14 443.85,314.45Z" fill="none" stroke="#231815" stroke-width="3.1" stroke-linejoin="round"/>
<text x="505" y="319.5" font-size="12" fill="#fff" text-anchor="middle" >0.9</text>
<line x1="491" y1="235.3" x2="501.8" y2="300" stroke="#111" stroke-width="1.8"/>
<path d="M502.6,308.4 L494.3,294.6 L500.4,296.9 L507,292.7 Z" fill="#111"/>
<circle cx="491.1" cy="235.3" r="6.1" fill="#379338"/>
<text x="458.9" y="401.9" font-size="22" fill="#2e2e2e" textLength="98.32" lengthAdjust="spacingAndGlyphs" >Probability</text>
<rect x="442.9" y="414.3" width="131.7" height="18.4" fill="url(#pg)" stroke="#2a1a1a" stroke-width="2.5"/>
<g clip-path="url(#c9)">
<rect x="627.8" y="264.2" width="153.7" height="150.5" fill="#fff"/>
<g fill="#cfcfcf"><circle cx="731.6" cy="274.6" r="2"/><circle cx="711.5" cy="279.9" r="2"/><circle cx="724.2" cy="285.6" r="2"/><circle cx="698.9" cy="287.7" r="2"/><circle cx="711.5" cy="290.5" r="2"/><circle cx="667.2" cy="300.4" r="2"/><circle cx="672.5" cy="300.4" r="2"/><circle cx="679.9" cy="304" r="2"/><circle cx="684.7" cy="301.9" r="2"/><circle cx="703.1" cy="305" r="2"/><circle cx="725.3" cy="305" r="2"/><circle cx="651.4" cy="314.1" r="2"/><circle cx="666.2" cy="317.9" r="2"/><circle cx="686.2" cy="317.7" r="2"/><circle cx="735.8" cy="316.2" r="2"/><circle cx="751.6" cy="307.8" r="2"/><circle cx="761.8" cy="308.8" r="2"/><circle cx="757.6" cy="317.9" r="2"/><circle cx="639.8" cy="331" r="2"/><circle cx="651.4" cy="331" r="2"/><circle cx="644" cy="342.6" r="2"/><circle cx="668.3" cy="332" r="2"/><circle cx="672.5" cy="337.7" r="2"/><circle cx="668.9" cy="344.7" r="2"/><circle cx="733.7" cy="333.7" r="2"/><circle cx="743.2" cy="338.4" r="2"/><circle cx="725.3" cy="341.5" r="2"/><circle cx="742.1" cy="347.2" r="2"/><circle cx="649.3" cy="364.3" r="2"/><circle cx="672.5" cy="367.9" r="2"/><circle cx="685.2" cy="376.8" r="2"/><circle cx="701" cy="358.4" r="2"/><circle cx="709.4" cy="366.5" r="2"/><circle cx="706.9" cy="374.5" r="2"/><circle cx="724.2" cy="362.6" r="2"/><circle cx="726.3" cy="377.4" r="2"/><circle cx="739" cy="377" r="2"/><circle cx="655.6" cy="388" r="2"/><circle cx="669.3" cy="393.3" r="2"/><circle cx="672.5" cy="389" r="2"/><circle cx="682" cy="386.9" r="2"/><circle cx="735.8" cy="387.6" r="2"/><circle cx="744.3" cy="389.5" r="2"/><circle cx="743.2" cy="400.6" r="2"/><circle cx="752.7" cy="405.9" r="2"/></g>
<line x1="661.97" y1="264.2" x2="661.97" y2="414.7" stroke="#231815" stroke-width="2.6"/>
<line x1="627.8" y1="295.19" x2="781.5" y2="295.19" stroke="#231815" stroke-width="2.6"/>
<line x1="691" y1="264.2" x2="691" y2="414.7" stroke="#231815" stroke-width="2.6"/>
<line x1="627.8" y1="323.71" x2="781.5" y2="323.71" stroke="#231815" stroke-width="2.6"/>
<line x1="720.17" y1="264.2" x2="720.17" y2="414.7" stroke="#231815" stroke-width="2.6"/>
<line x1="627.8" y1="352.66" x2="781.5" y2="352.66" stroke="#231815" stroke-width="2.6"/>
<line x1="749.63" y1="264.2" x2="749.63" y2="414.7" stroke="#231815" stroke-width="2.6"/>
<line x1="627.8" y1="381.32" x2="781.5" y2="381.32" stroke="#231815" stroke-width="2.6"/>
</g>
<path d="M632.97,337.55C633.46,333.29 635.25,330.74 637.12,327.47C638.99,324.21 641.03,321.71 644.18,317.96C647.34,314.21 652.7,308.32 656.07,304.98C659.43,301.64 661.21,300.09 664.36,297.93C667.52,295.76 670.59,294.46 675.01,291.99C679.44,289.53 686.04,285.6 690.93,283.15C695.83,280.71 699.83,279.14 704.39,277.33C708.95,275.52 713.41,273.64 718.29,272.3C723.17,270.95 730.1,269.57 733.65,269.27C737.2,268.98 738.21,269.61 739.59,270.51C740.97,271.4 741.94,272.78 741.94,274.65C741.94,276.51 740.77,279.14 739.59,281.7C738.41,284.25 736.26,287.42 734.88,289.98C733.5,292.54 731.5,295.07 731.29,297.03C731.09,298.99 732.27,300.65 733.65,301.73C735.03,302.81 737.03,303.22 739.59,303.52C742.15,303.82 744.67,303.62 749.01,303.52C753.34,303.43 761.27,302.76 765.6,302.96C769.94,303.17 773.24,303.97 775.02,304.75C776.79,305.54 776.64,306.68 776.25,307.66C775.86,308.65 774.44,309.49 772.66,310.69C770.89,311.88 767.77,313.35 765.6,314.83C763.43,316.3 761.1,317.89 759.66,319.53C758.22,321.17 757.75,322.72 756.97,324.68C756.18,326.63 755.77,328.59 754.95,331.28C754.13,333.97 753.01,337.44 752.03,340.79C751.06,344.15 750.17,348.42 749.12,351.43C748.07,354.43 746.47,356.15 745.76,358.81C745.05,361.48 744.69,364.78 744.86,367.43C745.03,370.08 746.02,372.5 746.77,374.71C747.51,376.91 748.35,377.88 749.34,380.64C750.33,383.4 751.64,387.61 752.71,391.27C753.77,394.93 755.42,399.7 755.73,402.57C756.05,405.45 755.55,407.39 754.61,408.51C753.68,409.63 752.17,410.11 750.13,409.29C748.09,408.47 746.09,406.6 742.39,403.58C738.69,400.56 732.08,394.78 727.93,391.16C723.78,387.54 720.27,384.07 717.5,381.87C714.74,379.67 713.23,378.57 711.34,377.95C709.45,377.34 708.37,377.48 706.18,378.18C704,378.87 701.15,380.58 698.22,382.09C695.29,383.6 692.78,385.08 688.58,387.24C684.38,389.4 677.07,393.14 673,395.08C668.92,397.02 666.34,398.34 664.14,398.88C661.93,399.42 661.43,399.33 659.77,398.32C658.1,397.31 656.39,395.78 654.16,392.84C651.94,389.89 648.82,384.89 646.43,380.64C644.03,376.38 641.85,371.93 639.81,367.32C637.77,362.71 635.35,357.95 634.21,352.99C633.07,348.03 632.49,341.8 632.97,337.55Z" fill="none" stroke="#231815" stroke-width="3" stroke-linejoin="round"/>
<rect x="690.9" y="324.3" width="29.1" height="28.2" fill="none" stroke="#d8302a" stroke-width="1.8"/>
<circle cx="696" cy="346.8" r="2.4" fill="#bd6428"/>
<circle cx="706.9" cy="343.3" r="2.4" fill="#bd6428"/>
<circle cx="699" cy="335" r="2.4" fill="#bd6428"/>
<circle cx="710.9" cy="330.4" r="2.4" fill="#6b3a97"/>
<circle cx="713.6" cy="347.3" r="2.4" fill="#3a9a3a"/>
<line x1="646.1" y1="238" x2="693.71" y2="341.8" stroke="#111" stroke-width="1.6"/>
<path d="M695.17,344.98 L691.17,341.31 L694.99,339.56 Z" fill="#111"/>
<line x1="662.6" y1="238" x2="704.77" y2="338.23" stroke="#111" stroke-width="1.6"/>
<path d="M706.12,341.46 L702.25,337.66 L706.12,336.03 Z" fill="#111"/>
<line x1="679.3" y1="238" x2="697.91" y2="329.61" stroke="#111" stroke-width="1.6"/>
<path d="M698.6,333.04 L695.55,328.56 L699.66,327.72 Z" fill="#111"/>
<line x1="695.9" y1="238" x2="710.02" y2="324.97" stroke="#111" stroke-width="1.6"/>
<path d="M710.58,328.43 L707.71,323.83 L711.85,323.15 Z" fill="#111"/>
<line x1="714.6" y1="238" x2="713.65" y2="341.8" stroke="#111" stroke-width="1.6"/>
<path d="M713.62,345.3 L711.56,340.28 L715.76,340.32 Z" fill="#111"/>
<circle cx="646.1" cy="237.9" r="4.5" fill="#ab572a"/>
<circle cx="662.6" cy="237.9" r="4.5" fill="#ab572a"/>
<circle cx="679.3" cy="237.9" r="4.5" fill="#ab572a"/>
<circle cx="695.9" cy="237.9" r="4.5" fill="#6b3a97"/>
<circle cx="714.4" cy="237.9" r="4.5" fill="#3a9a3a"/>
<circle cx="733.4" cy="237.9" r="4.5" fill="#1f65a2"/>
<circle cx="750.6" cy="237.9" r="4.5" fill="#1f65a2"/>
<text x="641.7" y="430.8" font-size="16.2" fill="#2e2e2e" textLength="115.19" lengthAdjust="spacingAndGlyphs" >Mapping through</text>
<text x="612.1" y="449" font-size="16.2" fill="#2e2e2e" textLength="179.93" lengthAdjust="spacingAndGlyphs" >maximize cosine similarity</text>
<line x1="55.3" y1="525.5" x2="55.3" y2="719.1" stroke="#333" stroke-width="1.3"/>
<line x1="55.3" y1="718.5" x2="301.6" y2="718.5" stroke="#333" stroke-width="1.3"/>
<line x1="52" y1="713.5" x2="55.3" y2="713.5" stroke="#333" stroke-width="1.1"/>
<line x1="53.4" y1="699.29" x2="55.3" y2="699.29" stroke="#555" stroke-width="0.8"/>
<line x1="53.4" y1="690.98" x2="55.3" y2="690.98" stroke="#555" stroke-width="0.8"/>
<line x1="53.4" y1="685.08" x2="55.3" y2="685.08" stroke="#555" stroke-width="0.8"/>
<line x1="53.4" y1="680.51" x2="55.3" y2="680.51" stroke="#555" stroke-width="0.8"/>
<line x1="53.4" y1="676.77" x2="55.3" y2="676.77" stroke="#555" stroke-width="0.8"/>
<line x1="53.4" y1="673.61" x2="55.3" y2="673.61" stroke="#555" stroke-width="0.8"/>
<line x1="53.4" y1="670.87" x2="55.3" y2="670.87" stroke="#555" stroke-width="0.8"/>
<line x1="53.4" y1="668.46" x2="55.3" y2="668.46" stroke="#555" stroke-width="0.8"/>
<text x="33.8" y="716.9" font-size="12" fill="#333" textLength="11.1" lengthAdjust="spacingAndGlyphs" >10</text>
<text x="44.9" y="713.3" font-size="12" fill="#333" textLength="5.3" lengthAdjust="spacingAndGlyphs" >1</text>
<line x1="52" y1="666.3" x2="55.3" y2="666.3" stroke="#333" stroke-width="1.1"/>
<line x1="53.4" y1="652.3" x2="55.3" y2="652.3" stroke="#555" stroke-width="0.8"/>
<line x1="53.4" y1="644.11" x2="55.3" y2="644.11" stroke="#555" stroke-width="0.8"/>
<line x1="53.4" y1="638.3" x2="55.3" y2="638.3" stroke="#555" stroke-width="0.8"/>
<line x1="53.4" y1="633.8" x2="55.3" y2="633.8" stroke="#555" stroke-width="0.8"/>
<line x1="53.4" y1="630.12" x2="55.3" y2="630.12" stroke="#555" stroke-width="0.8"/>
<line x1="53.4" y1="627" x2="55.3" y2="627" stroke="#555" stroke-width="0.8"/>
<line x1="53.4" y1="624.31" x2="55.3" y2="624.31" stroke="#555" stroke-width="0.8"/>
<line x1="53.4" y1="621.93" x2="55.3" y2="621.93" stroke="#555" stroke-width="0.8"/>
<text x="33.8" y="669.7" font-size="12" fill="#333" textLength="11.1" lengthAdjust="spacingAndGlyphs" >10</text>
<text x="44.9" y="666.1" font-size="12" fill="#333" textLength="5.3" lengthAdjust="spacingAndGlyphs" >2</text>
<line x1="52" y1="619.8" x2="55.3" y2="619.8" stroke="#333" stroke-width="1.1"/>
<line x1="53.4" y1="605.74" x2="55.3" y2="605.74" stroke="#555" stroke-width="0.8"/>
<line x1="53.4" y1="597.52" x2="55.3" y2="597.52" stroke="#555" stroke-width="0.8"/>
<line x1="53.4" y1="591.68" x2="55.3" y2="591.68" stroke="#555" stroke-width="0.8"/>
<line x1="53.4" y1="587.16" x2="55.3" y2="587.16" stroke="#555" stroke-width="0.8"/>
<line x1="53.4" y1="583.46" x2="55.3" y2="583.46" stroke="#555" stroke-width="0.8"/>
<line x1="53.4" y1="580.33" x2="55.3" y2="580.33" stroke="#555" stroke-width="0.8"/>
<line x1="53.4" y1="577.63" x2="55.3" y2="577.63" stroke="#555" stroke-width="0.8"/>
<line x1="53.4" y1="575.24" x2="55.3" y2="575.24" stroke="#555" stroke-width="0.8"/>
<text x="33.8" y="623.2" font-size="12" fill="#333" textLength="11.1" lengthAdjust="spacingAndGlyphs" >10</text>
<text x="44.9" y="619.6" font-size="12" fill="#333" textLength="5.3" lengthAdjust="spacingAndGlyphs" >3</text>
<line x1="52" y1="573.1" x2="55.3" y2="573.1" stroke="#333" stroke-width="1.1"/>
<line x1="53.4" y1="558.77" x2="55.3" y2="558.77" stroke="#555" stroke-width="0.8"/>
<line x1="53.4" y1="550.39" x2="55.3" y2="550.39" stroke="#555" stroke-width="0.8"/>
<line x1="53.4" y1="544.44" x2="55.3" y2="544.44" stroke="#555" stroke-width="0.8"/>
<line x1="53.4" y1="539.83" x2="55.3" y2="539.83" stroke="#555" stroke-width="0.8"/>
<line x1="53.4" y1="536.06" x2="55.3" y2="536.06" stroke="#555" stroke-width="0.8"/>
<line x1="53.4" y1="532.87" x2="55.3" y2="532.87" stroke="#555" stroke-width="0.8"/>
<line x1="53.4" y1="530.11" x2="55.3" y2="530.11" stroke="#555" stroke-width="0.8"/>
<line x1="53.4" y1="527.68" x2="55.3" y2="527.68" stroke="#555" stroke-width="0.8"/>
<text x="33.8" y="576.5" font-size="12" fill="#333" textLength="11.1" lengthAdjust="spacingAndGlyphs" >10</text>
<text x="44.9" y="572.9" font-size="12" fill="#333" textLength="5.3" lengthAdjust="spacingAndGlyphs" >4</text>
<line x1="52" y1="525.5" x2="55.3" y2="525.5" stroke="#333" stroke-width="1.1"/>
<text x="33.8" y="528.9" font-size="12" fill="#333" textLength="11.1" lengthAdjust="spacingAndGlyphs" >10</text>
<text x="44.9" y="525.3" font-size="12" fill="#333" textLength="5.3" lengthAdjust="spacingAndGlyphs" >5</text>
<line x1="55.3" y1="718.5" x2="55.3" y2="721.5" stroke="#333" stroke-width="1.1"/>
<text x="53.5" y="732.8" font-size="11.8" fill="#333" text-anchor="middle" >0</text>
<line x1="95.35" y1="718.5" x2="95.35" y2="721.5" stroke="#333" stroke-width="1.1"/>
<text x="94.55" y="732.8" font-size="11.8" fill="#333" text-anchor="middle" >5000</text>
<line x1="135.4" y1="718.5" x2="135.4" y2="721.5" stroke="#333" stroke-width="1.1"/>
<text x="134.6" y="732.8" font-size="11.8" fill="#333" text-anchor="middle" >10000</text>
<line x1="175.45" y1="718.5" x2="175.45" y2="721.5" stroke="#333" stroke-width="1.1"/>
<text x="174.65" y="732.8" font-size="11.8" fill="#333" text-anchor="middle" >15000</text>
<line x1="215.5" y1="718.5" x2="215.5" y2="721.5" stroke="#333" stroke-width="1.1"/>
<text x="214.7" y="732.8" font-size="11.8" fill="#333" text-anchor="middle" >20000</text>
<line x1="255.55" y1="718.5" x2="255.55" y2="721.5" stroke="#333" stroke-width="1.1"/>
<text x="254.75" y="732.8" font-size="11.8" fill="#333" text-anchor="middle" >25000</text>
<line x1="295.6" y1="718.5" x2="295.6" y2="721.5" stroke="#333" stroke-width="1.1"/>
<text x="294.8" y="732.8" font-size="11.8" fill="#333" text-anchor="middle" >30000</text>
<text x="136.1" y="746.2" font-size="13.6" fill="#2e2e2e" textLength="96.88" lengthAdjust="spacingAndGlyphs" >Number of spots</text>
<text x="0" y="0" font-size="13.5" fill="#2e2e2e" text-anchor="middle" transform="translate(28.2,616.4) rotate(-90)">Time(s)</text>
<polyline points="66.3,595.9 96.1,578.6 117.6,568.5 164.1,547.1 209.5,540.6 290.3,535.1" fill="none" stroke="#7a1c80" stroke-width="2.5" stroke-linejoin="round"/>
<g fill="#7a1c80"><circle cx="66.3" cy="595.9" r="4.0"/><circle cx="96.1" cy="578.6" r="4.0"/><circle cx="117.6" cy="568.5" r="4.0"/><circle cx="164.1" cy="547.1" r="4.0"/><circle cx="209.5" cy="540.6" r="4.0"/><circle cx="290.3" cy="535.1" r="4.0"/></g>
<polyline points="66.3,643.5 96.1,592.1 117.6,575.8" fill="none" stroke="#80c6e4" stroke-width="2.5" stroke-linejoin="round"/>
<g fill="#80c6e4"><circle cx="66.3" cy="643.5" r="4.0"/><circle cx="96.1" cy="592.1" r="4.0"/><circle cx="117.6" cy="575.8" r="4.0"/></g>
<polyline points="66.3,682.1 96.1,657.2 117.6,649.2 164.1,639.2 209.5,631.3" fill="none" stroke="#8fcf85" stroke-width="2.5" stroke-linejoin="round"/>
<g fill="#8fcf85"><circle cx="66.3" cy="682.1" r="4.0"/><circle cx="96.1" cy="657.2" r="4.0"/><circle cx="117.6" cy="649.2" r="4.0"/><circle cx="164.1" cy="639.2" r="4.0"/><circle cx="209.5" cy="631.3" r="4.0"/></g>
<polyline points="66.3,709.6 96.1,699.4 117.6,694.6 164.1,688.2 209.5,681.2 290.3,675.3" fill="none" stroke="#f07468" stroke-width="2.5" stroke-linejoin="round"/>
<g fill="#f07468"><circle cx="66.3" cy="709.6" r="4.0"/><circle cx="96.1" cy="699.4" r="4.0"/><circle cx="117.6" cy="694.6" r="4.0"/><circle cx="164.1" cy="688.2" r="4.0"/><circle cx="209.5" cy="681.2" r="4.0"/><circle cx="290.3" cy="675.3" r="4.0"/></g>
<polyline points="66.3,658.2 96.1,635 117.6,626.6 164.1,615.4 209.5,608.7 290.3,600" fill="none" stroke="#2356a8" stroke-width="2.5" stroke-linejoin="round"/>
<g fill="#2356a8"><circle cx="66.3" cy="658.2" r="4.0"/><circle cx="96.1" cy="635" r="4.0"/><circle cx="117.6" cy="626.6" r="4.0"/><circle cx="164.1" cy="615.4" r="4.0"/><circle cx="209.5" cy="608.7" r="4.0"/><circle cx="290.3" cy="600" r="4.0"/></g>
<polyline points="66.3,650.9 96.1,632.9 117.6,621.3 164.1,607.4 209.5,594.1 290.3,578.2" fill="none" stroke="#e9e630" stroke-width="2.5" stroke-linejoin="round"/>
<g fill="#e9e630"><circle cx="66.3" cy="650.9" r="4.0"/><circle cx="96.1" cy="632.9" r="4.0"/><circle cx="117.6" cy="621.3" r="4.0"/><circle cx="164.1" cy="607.4" r="4.0"/><circle cx="209.5" cy="594.1" r="4.0"/><circle cx="290.3" cy="578.2" r="4.0"/></g>
<line x1="210.3" y1="640" x2="210.3" y2="672" stroke="#111" stroke-width="1.2"/>
<path d="M210.3,636.4 L208,642 L212.6,642 Z M210.3,675.7 L208,670 L212.6,670 Z" fill="#111"/>
<text x="214.9" y="659.6" font-size="10.6" fill="#333" textLength="56.1" lengthAdjust="spacingAndGlyphs" >10× speedup</text>
<line x1="281.6" y1="545" x2="281.6" y2="669" stroke="#222" stroke-width="1.4"/>
<path d="M281.6,541.5 L278.9,548 L284.3,548 Z M281.6,672.5 L278.9,666 L284.3,666 Z" fill="#111"/>
<text x="287.2" y="626.9" font-size="13.8" fill="#2e2e2e" textLength="92.04" lengthAdjust="spacingAndGlyphs" >1010× speedup</text>
<line x1="423.2" y1="529.5" x2="423.2" y2="716.4" stroke="#444" stroke-width="1.3"/>
<line x1="423.2" y1="716.4" x2="662.6" y2="716.4" stroke="#444" stroke-width="1.3"/>
<line x1="419.8" y1="715.9" x2="423.2" y2="715.9" stroke="#444" stroke-width="1.1"/>
<text x="417.9" y="720.1" font-size="12" fill="#333" text-anchor="end" textLength="5.9" lengthAdjust="spacingAndGlyphs" >0</text>
<line x1="419.8" y1="681.95" x2="423.2" y2="681.95" stroke="#444" stroke-width="1.1"/>
<text x="417.9" y="686.15" font-size="12" fill="#333" text-anchor="end" textLength="11.7" lengthAdjust="spacingAndGlyphs" >10</text>
<line x1="419.8" y1="648" x2="423.2" y2="648" stroke="#444" stroke-width="1.1"/>
<text x="417.9" y="652.2" font-size="12" fill="#333" text-anchor="end" textLength="11.7" lengthAdjust="spacingAndGlyphs" >20</text>
<line x1="419.8" y1="614.05" x2="423.2" y2="614.05" stroke="#444" stroke-width="1.1"/>
<text x="417.9" y="618.25" font-size="12" fill="#333" text-anchor="end" textLength="11.7" lengthAdjust="spacingAndGlyphs" >30</text>
<line x1="419.8" y1="580.1" x2="423.2" y2="580.1" stroke="#444" stroke-width="1.1"/>
<text x="417.9" y="584.3" font-size="12" fill="#333" text-anchor="end" textLength="11.7" lengthAdjust="spacingAndGlyphs" >40</text>
<line x1="419.8" y1="546.15" x2="423.2" y2="546.15" stroke="#444" stroke-width="1.1"/>
<text x="417.9" y="550.35" font-size="12" fill="#333" text-anchor="end" textLength="11.7" lengthAdjust="spacingAndGlyphs" >50</text>
<line x1="423.2" y1="716.4" x2="423.2" y2="719.8" stroke="#444" stroke-width="1.1"/>
<text x="420.7" y="730.9" font-size="11.8" fill="#333" text-anchor="middle" >0</text>
<line x1="462.45" y1="716.4" x2="462.45" y2="719.8" stroke="#444" stroke-width="1.1"/>
<text x="461.65" y="730.9" font-size="11.8" fill="#333" text-anchor="middle" >5000</text>
<line x1="501.7" y1="716.4" x2="501.7" y2="719.8" stroke="#444" stroke-width="1.1"/>
<text x="500.9" y="730.9" font-size="11.8" fill="#333" text-anchor="middle" >10000</text>
<line x1="540.95" y1="716.4" x2="540.95" y2="719.8" stroke="#444" stroke-width="1.1"/>
<text x="540.15" y="730.9" font-size="11.8" fill="#333" text-anchor="middle" >15000</text>
<line x1="580.2" y1="716.4" x2="580.2" y2="719.8" stroke="#444" stroke-width="1.1"/>
<text x="579.4" y="730.9" font-size="11.8" fill="#333" text-anchor="middle" >20000</text>
<line x1="619.45" y1="716.4" x2="619.45" y2="719.8" stroke="#444" stroke-width="1.1"/>
<text x="618.65" y="730.9" font-size="11.8" fill="#333" text-anchor="middle" >25000</text>
<line x1="658.7" y1="716.4" x2="658.7" y2="719.8" stroke="#444" stroke-width="1.1"/>
<text x="657.9" y="730.9" font-size="11.8" fill="#333" text-anchor="middle" >30000</text>
<text x="501.5" y="746.2" font-size="13.6" fill="#2e2e2e" textLength="97.38" lengthAdjust="spacingAndGlyphs" >Number of spots</text>
<text x="0" y="0" font-size="13.4" fill="#2e2e2e" text-anchor="middle" transform="translate(399.2,620.2) rotate(-90)">Peak Mem(GB)</text>
<polyline points="433.9,694.8 462.7,616 484,537.9" fill="none" stroke="#80c6e4" stroke-width="2.35" stroke-linejoin="round"/>
<g fill="#80c6e4"><circle cx="433.9" cy="694.8" r="3.8"/><circle cx="462.7" cy="616" r="3.8"/><circle cx="484" cy="537.9" r="3.8"/></g>
<polyline points="433.9,705.4 462.7,704 484,701.2 529.2,695.3 572.8,688.6" fill="none" stroke="#8fcf85" stroke-width="2.35" stroke-linejoin="round"/>
<g fill="#8fcf85"><circle cx="433.9" cy="705.4" r="3.8"/><circle cx="462.7" cy="704" r="3.8"/><circle cx="484" cy="701.2" r="3.8"/><circle cx="529.2" cy="695.3" r="3.8"/><circle cx="572.8" cy="688.6" r="3.8"/></g>
<polyline points="433.9,708.3 462.7,708.3 484,707.4 529.2,702.7 572.8,698.5 652,686.6" fill="none" stroke="#7a1c80" stroke-width="2.35" stroke-linejoin="round"/>
<g fill="#7a1c80"><circle cx="433.9" cy="708.3" r="3.8"/><circle cx="462.7" cy="708.3" r="3.8"/><circle cx="484" cy="707.4" r="3.8"/><circle cx="529.2" cy="702.7" r="3.8"/><circle cx="572.8" cy="698.5" r="3.8"/><circle cx="652" cy="686.6" r="3.8"/></g>
<polyline points="433.9,705.4 462.7,704.5 484,703.5 529.2,700.2 572.8,697.8 652,693.3" fill="none" stroke="#f07468" stroke-width="2.35" stroke-linejoin="round"/>
<g fill="#f07468"><circle cx="433.9" cy="705.4" r="3.8"/><circle cx="462.7" cy="704.5" r="3.8"/><circle cx="484" cy="703.5" r="3.8"/><circle cx="529.2" cy="700.2" r="3.8"/><circle cx="572.8" cy="697.8" r="3.8"/><circle cx="652" cy="693.3" r="3.8"/></g>
<polyline points="433.9,697.3 462.7,693.8 484,691.5 529.2,677.9 572.8,663.8 652,632.8" fill="none" stroke="#e9e630" stroke-width="2.35" stroke-linejoin="round"/>
<g fill="#e9e630"><circle cx="433.9" cy="697.3" r="3.8"/><circle cx="462.7" cy="693.8" r="3.8"/><circle cx="484" cy="691.5" r="3.8"/><circle cx="529.2" cy="677.9" r="3.8"/><circle cx="572.8" cy="663.8" r="3.8"/><circle cx="652" cy="632.8" r="3.8"/></g>
<polyline points="433.9,685 462.7,682.5 484,681.7 529.2,669.7 572.8,646.9 652,593.6" fill="none" stroke="#2356a8" stroke-width="2.35" stroke-linejoin="round"/>
<g fill="#2356a8"><circle cx="433.9" cy="685" r="3.8"/><circle cx="462.7" cy="682.5" r="3.8"/><circle cx="484" cy="681.7" r="3.8"/><circle cx="529.2" cy="669.7" r="3.8"/><circle cx="572.8" cy="646.9" r="3.8"/><circle cx="652" cy="593.6" r="3.8"/></g>
<line x1="697.8" y1="562.8" x2="727.7" y2="562.8" stroke="#f07d74" stroke-width="2.2"/>
<text x="737.3" y="568.1" font-size="14.8" fill="#2e2e2e" textLength="68.2" lengthAdjust="spacingAndGlyphs" >Polyomino</text>
<line x1="697.8" y1="584.58" x2="727.7" y2="584.58" stroke="#93cf8a" stroke-width="2.2"/>
<text x="737.3" y="589.88" font-size="14.8" fill="#2e2e2e" textLength="55.88" lengthAdjust="spacingAndGlyphs" >Tangram</text>
<line x1="697.8" y1="606.36" x2="727.7" y2="606.36" stroke="#86c8e4" stroke-width="2.2"/>
<text x="737.3" y="611.66" font-size="14.8" fill="#2e2e2e" textLength="79.71" lengthAdjust="spacingAndGlyphs" >CytoSPACE</text>
<line x1="697.8" y1="628.14" x2="727.7" y2="628.14" stroke="#3a63ad" stroke-width="2.2"/>
<text x="737.3" y="633.44" font-size="14.8" fill="#2e2e2e" textLength="55.87" lengthAdjust="spacingAndGlyphs" >scSpace</text>
<line x1="697.8" y1="649.92" x2="727.7" y2="649.92" stroke="#ecea3a" stroke-width="2.2"/>
<text x="737.3" y="655.22" font-size="14.8" fill="#2e2e2e" textLength="49.07" lengthAdjust="spacingAndGlyphs" >SpaTrio</text>
<line x1="697.8" y1="671.7" x2="727.7" y2="671.7" stroke="#7b2a8a" stroke-width="2.2"/>
<text x="737.3" y="677" font-size="14.8" fill="#2e2e2e" textLength="43.61" lengthAdjust="spacingAndGlyphs" >CelEry</text>
</svg>
</body></html>
